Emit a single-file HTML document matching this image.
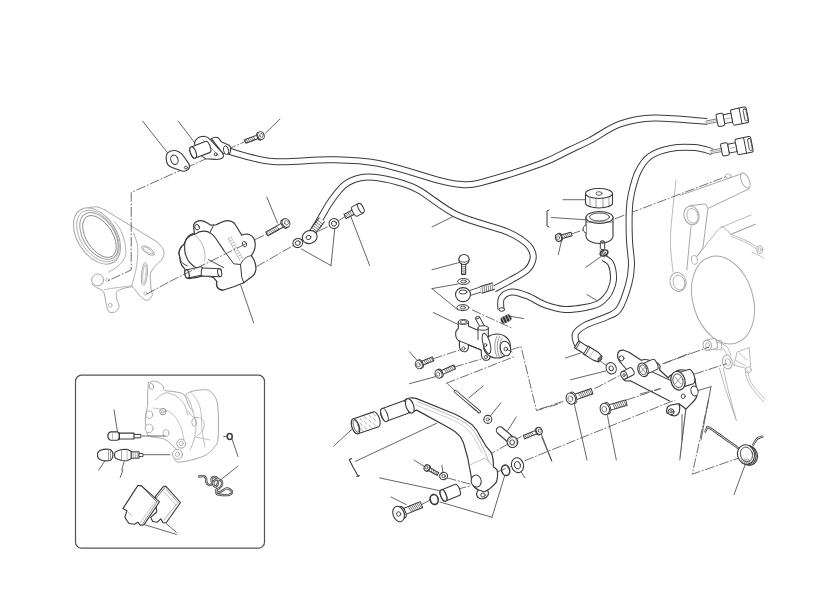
<!DOCTYPE html>
<html><head><meta charset="utf-8"><style>
html,body{margin:0;padding:0;background:#fff;}
body{width:834px;height:590px;overflow:hidden;position:relative;font-family:"Liberation Sans",sans-serif;}
svg{position:absolute;left:0;top:0;}
</style></head><body>
<svg width="834" height="590" viewBox="0 0 834 590" stroke-linecap="round" stroke-linejoin="round">
<path d="M88.9 207.8 C90.2 207.6 94.0 206.4 96.7 206.8 C99.4 207.2 103.6 209.5 105.0 210.0" fill="none" stroke="#a8a8a8" stroke-width="1" />
<path d="M105.0 210.0 L157.1 241.9" fill="none" stroke="#a8a8a8" stroke-width="1" />
<path d="M157.1 241.9 C158.1 243.0 161.8 246.6 162.9 248.7 C164.0 250.8 164.2 252.6 163.9 254.5 C163.6 256.4 162.5 258.4 161.0 260.4 C159.5 262.3 156.8 264.3 155.1 266.2 C153.4 268.1 151.8 270.1 151.0 272.0 C150.2 273.9 150.3 275.0 150.3 277.9 C150.3 280.8 150.9 286.7 151.2 289.6 C151.5 292.5 152.8 293.7 152.2 295.5 C151.5 297.3 149.1 300.0 147.3 300.3 C145.5 300.6 143.9 299.7 141.5 297.4 C139.1 295.1 134.2 288.5 132.7 286.7" fill="none" stroke="#a8a8a8" stroke-width="1" />
<path d="M132.7 286.7 C131.4 286.9 127.4 287.4 125.0 288.0 C122.6 288.6 119.6 289.7 118.1 290.6 C116.6 291.5 116.4 291.9 116.2 293.5 C116.0 295.1 116.5 297.9 117.0 300.0 C117.5 302.1 119.2 304.4 119.1 306.2 C119.0 308.0 117.7 309.9 116.5 311.0 C115.3 312.1 113.3 312.5 112.0 312.5 C110.7 312.5 109.4 312.6 108.4 311.0 C107.4 309.4 106.8 306.2 106.0 303.0 C105.2 299.8 105.0 294.2 103.5 291.6 C102.0 289.1 98.6 289.0 96.7 287.7 C94.8 286.4 92.8 284.6 92.0 284.0" fill="none" stroke="#a8a8a8" stroke-width="1" />
<ellipse cx="97.0" cy="236.0" rx="19.5" ry="31.0" transform="rotate(-33.0 97.0 236.0)" fill="none" stroke="#a8a8a8" stroke-width="1"/>
<ellipse cx="98.0" cy="236.0" rx="17.5" ry="28.5" transform="rotate(-33.0 98.0 236.0)" fill="none" stroke="#a8a8a8" stroke-width="0.8"/>
<ellipse cx="99.0" cy="236.0" rx="15.5" ry="26.0" transform="rotate(-33.0 99.0 236.0)" fill="none" stroke="#999" stroke-width="1"/>
<ellipse cx="99.5" cy="236.5" rx="13.0" ry="23.5" transform="rotate(-33.0 99.5 236.5)" fill="none" stroke="#888" stroke-width="0.9"/>
<path d="M114.2 221.4 C115.2 222.7 118.4 226.1 120.0 229.0 C121.6 231.9 123.0 235.1 124.0 239.0 C125.0 242.9 125.9 249.3 125.9 252.6 C125.9 255.9 125.0 257.1 124.0 259.0 C123.0 260.9 121.8 262.6 120.1 264.3 C118.4 266.0 116.0 267.7 114.0 269.0 C112.0 270.3 109.3 271.6 108.4 272.1" fill="none" stroke="#a8a8a8" stroke-width="0.9" />
<path d="M133.7 233.1 C134.3 235.4 137.1 241.3 137.6 246.8 C138.1 252.3 137.6 259.7 136.6 266.2 C135.6 272.7 132.6 282.4 131.8 285.7" fill="none" stroke="#a8a8a8" stroke-width="0.9" />
<path d="M104.5 289.6 C106.8 289.2 113.5 288.1 118.0 287.5 C122.5 286.9 129.5 286.0 131.8 285.7" fill="none" stroke="#a8a8a8" stroke-width="0.8" />
<ellipse cx="97.7" cy="279.9" rx="6.0" ry="6.0" transform="rotate(0.0 97.7 279.9)" fill="white" stroke="#a8a8a8" stroke-width="1"/>
<ellipse cx="148.0" cy="250.6" rx="7.5" ry="3.0" transform="rotate(33.0 148.0 250.6)" fill="none" stroke="#a8a8a8" stroke-width="0.9"/>
<ellipse cx="148.0" cy="250.6" rx="5.5" ry="1.8" transform="rotate(33.0 148.0 250.6)" fill="none" stroke="#a8a8a8" stroke-width="0.7"/>
<ellipse cx="144.4" cy="274.0" rx="2.9" ry="11.7" transform="rotate(5.0 144.4 274.0)" fill="none" stroke="#a8a8a8" stroke-width="0.9"/>
<ellipse cx="144.4" cy="274.0" rx="1.6" ry="9.5" transform="rotate(5.0 144.4 274.0)" fill="none" stroke="#a8a8a8" stroke-width="0.7"/>
<ellipse cx="107.4" cy="279.9" rx="1.5" ry="1.5" transform="rotate(0.0 107.4 279.9)" fill="none" stroke="#a8a8a8" stroke-width="0.8"/>
<ellipse cx="145.4" cy="293.5" rx="1.6" ry="1.6" transform="rotate(0.0 145.4 293.5)" fill="none" stroke="#a8a8a8" stroke-width="0.8"/>
<ellipse cx="110.3" cy="305.2" rx="1.8" ry="2.2" transform="rotate(0.0 110.3 305.2)" fill="none" stroke="#a8a8a8" stroke-width="0.8"/>
<path d="M680.0 195.4 L742.7 173.4" fill="none" stroke="#a8a8a8" stroke-width="1" />
<path d="M708.8 208.1 L749.5 188.6" fill="none" stroke="#a8a8a8" stroke-width="1" />
<ellipse cx="745.3" cy="180.5" rx="3.8" ry="8.0" transform="rotate(-25.0 745.3 180.5)" fill="white" stroke="#a8a8a8" stroke-width="1"/>
<ellipse cx="728.3" cy="176.0" rx="2.8" ry="2.3" transform="rotate(0.0 728.3 176.0)" fill="none" stroke="#a8a8a8" stroke-width="0.8"/>
<path d="M690.0 205.6 L705.4 203.9 L708.0 208.0 L702.9 248.0 L697.0 256.4" fill="none" stroke="#a8a8a8" stroke-width="1" />
<path d="M691.0 226.0 L686.8 270.0" fill="none" stroke="#a8a8a8" stroke-width="1" />
<ellipse cx="691.5" cy="215.4" rx="7.5" ry="9.5" transform="rotate(-15.0 691.5 215.4)" fill="white" stroke="#a8a8a8" stroke-width="1"/>
<ellipse cx="692.5" cy="215.8" rx="5.5" ry="7.5" transform="rotate(-15.0 692.5 215.8)" fill="none" stroke="#a8a8a8" stroke-width="0.8"/>
<ellipse cx="694.4" cy="259.8" rx="3.0" ry="4.5" transform="rotate(-10.0 694.4 259.8)" fill="white" stroke="#a8a8a8" stroke-width="0.8"/>
<ellipse cx="678.0" cy="282.0" rx="8.0" ry="9.5" transform="rotate(-15.0 678.0 282.0)" fill="white" stroke="#a8a8a8" stroke-width="1"/>
<ellipse cx="679.0" cy="282.5" rx="5.8" ry="7.5" transform="rotate(-15.0 679.0 282.5)" fill="none" stroke="#a8a8a8" stroke-width="0.8"/>
<path d="M676.0 180.0 C675.1 189.4 671.0 221.0 670.5 236.3 C670.0 251.6 672.6 266.1 673.0 272.0" fill="none" stroke="#a8a8a8" stroke-width="0.8" />
<path d="M697.0 256.4 C699.2 253.7 706.0 244.8 710.0 240.0 C714.0 235.2 718.1 229.4 720.7 227.6 C723.3 225.8 724.1 228.2 725.8 229.3 C727.5 230.4 730.0 233.6 730.8 234.4" fill="none" stroke="#a8a8a8" stroke-width="0.9" />
<path d="M720.7 227.6 L751.2 214.9" fill="none" stroke="#a8a8a8" stroke-width="0.8" />
<path d="M730.8 234.4 L755.4 224.2" fill="none" stroke="#888" stroke-width="0.9" />
<path d="M730.8 234.4 C733.2 235.3 740.8 238.0 745.0 240.0 C749.2 242.0 754.4 245.2 756.3 246.3" fill="none" stroke="#a8a8a8" stroke-width="0.8" />
<path d="M731.0 236.5 C733.3 237.4 740.8 240.0 745.0 242.0 C749.2 244.0 754.2 247.4 756.0 248.5" fill="none" stroke="#a8a8a8" stroke-width="0.7" />
<ellipse cx="759.7" cy="249.7" rx="3.0" ry="4.0" transform="rotate(0.0 759.7 249.7)" fill="white" stroke="#a8a8a8" stroke-width="0.9"/>
<ellipse cx="759.7" cy="249.7" rx="1.5" ry="2.0" transform="rotate(0.0 759.7 249.7)" fill="none" stroke="#a8a8a8" stroke-width="0.7"/>
<line x1="752.0" y1="252.0" x2="764.0" y2="258.0" stroke="#a8a8a8" stroke-width="0.7"/>
<ellipse cx="723.0" cy="300.0" rx="30.0" ry="45.0" transform="rotate(-17.0 723.0 300.0)" fill="none" stroke="#a8a8a8" stroke-width="1"/>
<path d="M714.8 340.7 L721.7 340.7 L721.7 349.8 L714.8 349.8Z" fill="none" stroke="#a8a8a8" stroke-width="0.8" />
<line x1="717.0" y1="342.0" x2="717.0" y2="348.5" stroke="#a8a8a8" stroke-width="0.7"/>
<g transform="translate(707.2 345.3) rotate(-13.3)"><path d="M0 -5.2 L7.8 -5.2 A2.3 5.2 0 0 1 7.8 5.2 L0 5.2 A2.3 5.2 0 0 1 0 -5.2 Z" fill="white" stroke="#a8a8a8" stroke-width="0.9"/></g>
<ellipse cx="707.2" cy="345.3" rx="4.2" ry="5.2" transform="rotate(-15.0 707.2 345.3)" fill="white" stroke="#a8a8a8" stroke-width="1"/>
<ellipse cx="707.5" cy="345.3" rx="2.0" ry="2.5" transform="rotate(0.0 707.5 345.3)" fill="none" stroke="#a8a8a8" stroke-width="0.8"/>
<path d="M718.0 342.2 C719.5 343.0 724.9 344.6 727.0 346.8 C729.1 349.0 730.2 353.8 730.9 355.2" fill="none" stroke="#a8a8a8" stroke-width="0.8" />
<path d="M723.0 348.0 C723.8 349.3 727.2 354.7 728.0 356.0" fill="none" stroke="#a8a8a8" stroke-width="0.7" />
<path d="M734.0 365.0 L737.0 352.1 L749.2 347.6 L750.7 365.0 L748.4 371.2" fill="none" stroke="#a8a8a8" stroke-width="0.8" />
<path d="M734.0 365.0 L748.0 369.0" fill="none" stroke="#a8a8a8" stroke-width="0.8" />
<line x1="739.3" y1="352.9" x2="746.9" y2="359.8" stroke="#a8a8a8" stroke-width="0.7"/>
<line x1="736.2" y1="360.5" x2="745.4" y2="365.9" stroke="#a8a8a8" stroke-width="0.7"/>
<ellipse cx="748.5" cy="369.8" rx="2.8" ry="3.0" transform="rotate(0.0 748.5 369.8)" fill="white" stroke="#a8a8a8" stroke-width="0.8"/>
<ellipse cx="727.4" cy="362.0" rx="4.8" ry="7.0" transform="rotate(-10.0 727.4 362.0)" fill="white" stroke="#a8a8a8" stroke-width="1"/>
<ellipse cx="727.9" cy="362.0" rx="2.5" ry="3.5" transform="rotate(-10.0 727.9 362.0)" fill="none" stroke="#a8a8a8" stroke-width="0.8"/>
<path d="M719.4 368.2 L725.5 389.5 L736.2 420.0" fill="none" stroke="#a8a8a8" stroke-width="0.8" />
<path d="M723.2 368.2 L727.8 388.8 L736.2 420.0" fill="none" stroke="#a8a8a8" stroke-width="0.8" />
<path d="M745.4 369.7 C745.6 371.2 745.6 375.6 746.9 378.9 C748.2 382.2 750.2 385.7 753.0 389.5 C755.8 393.3 761.9 399.8 763.7 401.8" fill="none" stroke="#a8a8a8" stroke-width="0.8" />
<path d="M748.0 371.0 C748.2 372.3 748.3 376.2 749.5 379.0 C750.7 381.8 752.4 384.7 755.0 388.0 C757.6 391.3 763.3 397.2 765.0 399.0" fill="none" stroke="#a8a8a8" stroke-width="0.7" />
<path d="M686.0 406.0 L680.0 457.0" fill="none" stroke="#a8a8a8" stroke-width="0.8" />
<path d="M185.8 394.8 C186.6 394.3 187.9 392.6 190.3 391.8 C192.7 391.0 196.9 390.2 200.0 390.0 C203.1 389.8 206.2 389.2 208.6 390.3 C211.0 391.4 213.2 393.9 214.7 396.4 C216.2 398.9 217.2 400.7 217.8 405.5 C218.4 410.3 218.5 419.1 218.5 425.0 C218.5 430.9 218.4 437.0 217.8 440.6 C217.2 444.2 216.5 444.4 214.7 446.7 C212.9 449.0 210.4 452.2 207.1 454.3 C203.8 456.4 199.3 457.7 195.0 459.0 C190.7 460.3 184.5 461.8 181.2 462.0 C177.9 462.2 176.4 462.2 175.1 460.4 C173.8 458.6 173.8 452.8 173.6 451.3" fill="none" stroke="#a8a8a8" stroke-width="1" />
<path d="M148.4 382.6 C149.6 382.4 152.9 380.6 155.3 381.1 C157.7 381.6 161.4 384.2 162.9 385.7 C164.4 387.2 162.4 389.3 164.4 390.3 C166.4 391.3 171.8 391.1 175.1 391.8 C178.4 392.6 181.9 392.5 184.2 394.8 C186.5 397.1 187.3 402.7 188.8 405.5 C190.3 408.3 192.6 410.6 193.4 411.6" fill="none" stroke="#a8a8a8" stroke-width="1" />
<path d="M148.4 382.6 C148.3 384.7 147.7 391.2 147.6 395.0 C147.5 398.8 148.0 401.7 147.6 405.5 C147.2 409.3 145.6 413.9 145.3 417.7 C145.1 421.5 145.4 425.3 146.1 428.4 C146.8 431.4 146.1 434.2 149.2 436.0 C152.2 437.8 160.3 437.3 164.4 439.1 C168.5 440.9 171.3 444.6 173.6 446.7 C175.9 448.8 177.3 451.1 178.0 452.0" fill="none" stroke="#a8a8a8" stroke-width="1" />
<path d="M185.8 394.8 C186.5 396.0 188.8 399.1 190.0 402.0 C191.2 404.9 192.0 408.2 193.0 412.0 C194.0 415.8 195.8 420.3 196.0 425.0 C196.2 429.7 195.0 435.8 194.0 440.0 C193.0 444.2 190.7 448.3 190.0 450.0" fill="none" stroke="#a8a8a8" stroke-width="0.8" />
<path d="M190.3 391.8 C191.4 393.2 195.2 396.6 197.0 400.0 C198.8 403.4 200.2 407.0 201.0 412.0 C201.8 417.0 201.3 424.2 202.0 430.0 C202.7 435.8 204.5 444.2 205.0 447.0" fill="none" stroke="#a8a8a8" stroke-width="0.7" />
<path d="M155.0 400.0 C156.7 398.8 161.5 393.7 165.0 393.0 C168.5 392.3 172.8 394.2 176.0 396.0 C179.2 397.8 182.0 400.8 184.0 404.0 C186.0 407.2 187.3 413.2 188.0 415.0" fill="none" stroke="#a8a8a8" stroke-width="0.8" />
<path d="M153.0 408.0 C155.8 408.7 165.5 409.2 170.0 412.0 C174.5 414.8 177.7 420.3 180.0 425.0 C182.3 429.7 183.3 437.5 184.0 440.0" fill="none" stroke="#a8a8a8" stroke-width="0.7" />
<path d="M188.0 411.0 C188.8 412.0 190.8 415.8 193.0 417.0 C195.2 418.2 199.2 417.0 201.0 418.0 C202.8 419.0 203.7 421.0 204.0 423.0 C204.3 425.0 204.2 427.8 203.0 430.0 C201.8 432.2 198.0 435.0 197.0 436.0" fill="none" stroke="#a8a8a8" stroke-width="0.8" />
<ellipse cx="151.4" cy="386.4" rx="2.2" ry="3.0" transform="rotate(-15.0 151.4 386.4)" fill="none" stroke="#a8a8a8" stroke-width="0.9"/>
<ellipse cx="162.9" cy="411.6" rx="3.2" ry="3.2" transform="rotate(0.0 162.9 411.6)" fill="white" stroke="#999" stroke-width="1"/>
<ellipse cx="162.9" cy="411.6" rx="1.5" ry="1.5" transform="rotate(0.0 162.9 411.6)" fill="none" stroke="#a8a8a8" stroke-width="0.8"/>
<ellipse cx="149.2" cy="414.7" rx="3.5" ry="3.8" transform="rotate(0.0 149.2 414.7)" fill="none" stroke="#a8a8a8" stroke-width="0.9"/>
<ellipse cx="149.2" cy="428.4" rx="4.0" ry="4.2" transform="rotate(0.0 149.2 428.4)" fill="white" stroke="#a8a8a8" stroke-width="0.9"/>
<ellipse cx="181.2" cy="443.6" rx="4.5" ry="4.5" transform="rotate(0.0 181.2 443.6)" fill="white" stroke="#a8a8a8" stroke-width="1"/>
<ellipse cx="181.2" cy="443.6" rx="2.2" ry="2.2" transform="rotate(0.0 181.2 443.6)" fill="none" stroke="#a8a8a8" stroke-width="0.8"/>
<ellipse cx="177.4" cy="454.3" rx="5.0" ry="5.0" transform="rotate(0.0 177.4 454.3)" fill="white" stroke="#a8a8a8" stroke-width="1"/>
<ellipse cx="177.4" cy="454.3" rx="2.2" ry="2.2" transform="rotate(0.0 177.4 454.3)" fill="none" stroke="#a8a8a8" stroke-width="0.8"/>
<ellipse cx="194.1" cy="422.3" rx="2.3" ry="3.8" transform="rotate(0.0 194.1 422.3)" fill="none" stroke="#a8a8a8" stroke-width="0.9"/>
<ellipse cx="166.0" cy="433.0" rx="3.0" ry="3.5" transform="rotate(0.0 166.0 433.0)" fill="none" stroke="#a8a8a8" stroke-width="0.8"/>
<line x1="195.0" y1="437.0" x2="210.0" y2="440.0" stroke="#a8a8a8" stroke-width="0.7"/>
<path d="M186.0 167.8 L216.4 154.2 L245.3 141.5" fill="none" stroke="#555" stroke-width="0.85" stroke-dasharray="9 2.5 1 2.5"/>
<path d="M186.0 167.8 L131.2 192.5 L131.2 270.0 L107.5 281.0" fill="none" stroke="#555" stroke-width="0.85" stroke-dasharray="9 2.5 1 2.5"/>
<path d="M147.0 294.0 L170.0 281.4" fill="none" stroke="#555" stroke-width="0.85" stroke-dasharray="9 2.5 1 2.5"/>
<path d="M255.4 239.4 L266.8 234.0" fill="none" stroke="#555" stroke-width="0.85" stroke-dasharray="9 2.5 1 2.5"/>
<path d="M256.7 266.5 L297.8 243.0 L309.7 237.0" fill="none" stroke="#555" stroke-width="0.85" stroke-dasharray="9 2.5 1 2.5"/>
<path d="M319.0 231.0 L331.0 225.0" fill="none" stroke="#555" stroke-width="0.85" stroke-dasharray="9 2.5 1 2.5"/>
<path d="M339.0 220.5 L345.0 216.5" fill="none" stroke="#555" stroke-width="0.85" stroke-dasharray="9 2.5 1 2.5"/>
<path d="M472.4 310.0 L511.5 328.0" fill="none" stroke="#555" stroke-width="0.85" stroke-dasharray="9 2.5 1 2.5"/>
<path d="M433.0 358.8 L461.7 349.3" fill="none" stroke="#555" stroke-width="0.85" stroke-dasharray="9 2.5 1 2.5"/>
<path d="M454.6 367.0 L482.0 358.8" fill="none" stroke="#555" stroke-width="0.85" stroke-dasharray="9 2.5 1 2.5"/>
<path d="M446.3 383.3 L516.0 356.0" fill="none" stroke="#555" stroke-width="0.85" stroke-dasharray="9 2.5 1 2.5"/>
<path d="M510.5 350.0 L521.0 346.5 L536.5 410.6 L560.0 403.5" fill="none" stroke="#555" stroke-width="0.85" stroke-dasharray="9 2.5 1 2.5"/>
<path d="M447.5 383.7 L478.3 413.4" fill="none" stroke="#555" stroke-width="0.85" stroke-dasharray="9 2.5 1 2.5"/>
<path d="M487.0 456.0 L522.0 436.0" fill="none" stroke="#555" stroke-width="0.85" stroke-dasharray="9 2.5 1 2.5"/>
<path d="M497.0 472.0 L682.4 397.0" fill="none" stroke="#555" stroke-width="0.85" stroke-dasharray="9 2.5 1 2.5"/>
<path d="M540.0 409.0 L562.9 401.4" fill="none" stroke="#555" stroke-width="0.85" stroke-dasharray="9 2.5 1 2.5"/>
<path d="M594.7 388.6 L621.4 374.7" fill="none" stroke="#555" stroke-width="0.85" stroke-dasharray="9 2.5 1 2.5"/>
<path d="M626.4 400.0 L672.2 384.8" fill="none" stroke="#555" stroke-width="0.85" stroke-dasharray="9 2.5 1 2.5"/>
<path d="M664.6 363.2 L690.0 353.0" fill="none" stroke="#555" stroke-width="0.85" stroke-dasharray="9 2.5 1 2.5"/>
<path d="M662.9 363.7 L708.6 347.2" fill="none" stroke="#555" stroke-width="0.85" stroke-dasharray="9 2.5 1 2.5"/>
<path d="M694.7 374.0 L726.4 363.7" fill="none" stroke="#555" stroke-width="0.85" stroke-dasharray="9 2.5 1 2.5"/>
<path d="M640.0 394.0 L673.0 385.3" fill="none" stroke="#555" stroke-width="0.85" stroke-dasharray="9 2.5 1 2.5"/>
<path d="M708.5 400.0 L692.2 474.2 L739.0 458.0" fill="none" stroke="#555" stroke-width="0.85" stroke-dasharray="9 2.5 1 2.5"/>
<path d="M615.4 218.6 L726.4 176.5" fill="none" stroke="#555" stroke-width="0.85" stroke-dasharray="9 2.5 1 2.5"/>
<path d="M571.5 234.0 L585.8 229.0" fill="none" stroke="#555" stroke-width="0.85" stroke-dasharray="9 2.5 1 2.5"/>
<path d="M599.8 360.7 L607.0 366.0" fill="none" stroke="#555" stroke-width="0.85" stroke-dasharray="9 2.5 1 2.5"/>
<path d="M447.0 477.9 L470.0 484.0" fill="none" stroke="#555" stroke-width="0.85" stroke-dasharray="9 2.5 1 2.5"/>
<path d="M421.5 504.6 L430.0 500.0" fill="none" stroke="#555" stroke-width="0.85" stroke-dasharray="9 2.5 1 2.5"/>
<path d="M457.0 489.3 L470.0 486.0" fill="none" stroke="#555" stroke-width="0.85" stroke-dasharray="9 2.5 1 2.5"/>
<path d="M444.0 476.0 L447.0 478.0" fill="none" stroke="#555" stroke-width="0.85" stroke-dasharray="9 2.5 1 2.5"/>
<line x1="142.7" y1="121.2" x2="168.0" y2="153.4" stroke="#4a4a4a" stroke-width="0.85"/>
<line x1="178.3" y1="121.2" x2="194.4" y2="142.4" stroke="#4a4a4a" stroke-width="0.85"/>
<line x1="265.6" y1="133.0" x2="280.0" y2="119.0" stroke="#4a4a4a" stroke-width="0.85"/>
<line x1="266.8" y1="197.0" x2="277.5" y2="223.0" stroke="#4a4a4a" stroke-width="0.85"/>
<line x1="240.7" y1="285.0" x2="253.7" y2="323.0" stroke="#4a4a4a" stroke-width="0.85"/>
<line x1="301.4" y1="249.0" x2="331.0" y2="265.6" stroke="#4a4a4a" stroke-width="0.85"/>
<line x1="331.0" y1="265.6" x2="335.0" y2="226.4" stroke="#4a4a4a" stroke-width="0.85"/>
<line x1="351.0" y1="217.0" x2="369.7" y2="265.6" stroke="#4a4a4a" stroke-width="0.85"/>
<line x1="432.0" y1="227.0" x2="458.0" y2="214.0" stroke="#4a4a4a" stroke-width="0.85"/>
<line x1="432.0" y1="269.7" x2="459.3" y2="262.5" stroke="#4a4a4a" stroke-width="0.85"/>
<line x1="432.0" y1="288.6" x2="458.0" y2="284.0" stroke="#4a4a4a" stroke-width="0.85"/>
<line x1="432.0" y1="288.6" x2="458.0" y2="310.0" stroke="#4a4a4a" stroke-width="0.85"/>
<line x1="433.2" y1="312.5" x2="458.0" y2="324.4" stroke="#4a4a4a" stroke-width="0.85"/>
<line x1="409.5" y1="351.7" x2="417.8" y2="361.2" stroke="#4a4a4a" stroke-width="0.85"/>
<line x1="409.5" y1="383.7" x2="435.6" y2="376.6" stroke="#4a4a4a" stroke-width="0.85"/>
<line x1="523.4" y1="318.5" x2="508.0" y2="316.0" stroke="#4a4a4a" stroke-width="0.85"/>
<line x1="563.0" y1="199.7" x2="585.8" y2="199.7" stroke="#4a4a4a" stroke-width="0.85"/>
<line x1="551.4" y1="217.5" x2="585.8" y2="219.8" stroke="#4a4a4a" stroke-width="0.85"/>
<line x1="561.4" y1="241.0" x2="558.3" y2="254.7" stroke="#4a4a4a" stroke-width="0.85"/>
<line x1="585.8" y1="267.3" x2="601.0" y2="256.6" stroke="#4a4a4a" stroke-width="0.85"/>
<line x1="587.0" y1="294.6" x2="598.8" y2="301.7" stroke="#4a4a4a" stroke-width="0.85"/>
<line x1="565.4" y1="358.0" x2="580.7" y2="353.0" stroke="#4a4a4a" stroke-width="0.85"/>
<line x1="570.5" y1="379.8" x2="606.0" y2="370.9" stroke="#4a4a4a" stroke-width="0.85"/>
<line x1="574.3" y1="404.0" x2="587.0" y2="460.0" stroke="#4a4a4a" stroke-width="0.85"/>
<line x1="607.4" y1="415.3" x2="616.3" y2="460.0" stroke="#4a4a4a" stroke-width="0.85"/>
<line x1="686.2" y1="406.4" x2="679.8" y2="460.0" stroke="#4a4a4a" stroke-width="0.85"/>
<line x1="540.0" y1="430.6" x2="551.4" y2="460.0" stroke="#4a4a4a" stroke-width="0.85"/>
<line x1="682.0" y1="414.6" x2="682.0" y2="440.0" stroke="#4a4a4a" stroke-width="0.85"/>
<line x1="711.0" y1="386.6" x2="701.0" y2="440.0" stroke="#4a4a4a" stroke-width="0.85"/>
<line x1="698.5" y1="390.4" x2="711.0" y2="386.6" stroke="#4a4a4a" stroke-width="0.85"/>
<line x1="745.0" y1="465.0" x2="734.0" y2="494.6" stroke="#4a4a4a" stroke-width="0.85"/>
<line x1="468.8" y1="398.0" x2="483.0" y2="386.1" stroke="#4a4a4a" stroke-width="0.85"/>
<line x1="487.8" y1="419.3" x2="500.9" y2="402.7" stroke="#4a4a4a" stroke-width="0.85"/>
<line x1="507.4" y1="430.9" x2="516.3" y2="416.9" stroke="#4a4a4a" stroke-width="0.85"/>
<line x1="541.7" y1="437.2" x2="551.9" y2="461.4" stroke="#4a4a4a" stroke-width="0.85"/>
<line x1="520.0" y1="470.3" x2="525.0" y2="477.9" stroke="#4a4a4a" stroke-width="0.85"/>
<line x1="504.8" y1="475.3" x2="492.0" y2="517.3" stroke="#4a4a4a" stroke-width="0.85"/>
<line x1="440.0" y1="502.0" x2="492.0" y2="517.3" stroke="#4a4a4a" stroke-width="0.85"/>
<line x1="333.8" y1="446.0" x2="352.9" y2="428.3" stroke="#4a4a4a" stroke-width="0.85"/>
<line x1="355.4" y1="461.4" x2="436.8" y2="423.2" stroke="#4a4a4a" stroke-width="0.85"/>
<line x1="391.0" y1="497.0" x2="406.3" y2="504.6" stroke="#4a4a4a" stroke-width="0.85"/>
<line x1="379.6" y1="477.9" x2="439.3" y2="490.6" stroke="#4a4a4a" stroke-width="0.85"/>
<line x1="414.0" y1="460.0" x2="424.0" y2="466.4" stroke="#4a4a4a" stroke-width="0.85"/>
<line x1="441.9" y1="465.2" x2="443.0" y2="472.8" stroke="#4a4a4a" stroke-width="0.85"/>
<line x1="114.0" y1="409.8" x2="117.5" y2="431.9" stroke="#4a4a4a" stroke-width="0.85"/>
<line x1="105.6" y1="459.8" x2="98.8" y2="470.0" stroke="#4a4a4a" stroke-width="0.85"/>
<line x1="124.2" y1="461.5" x2="121.7" y2="470.0" stroke="#4a4a4a" stroke-width="0.85"/>
<line x1="221.4" y1="479.2" x2="238.0" y2="466.1" stroke="#4a4a4a" stroke-width="0.85"/>
<line x1="232.0" y1="438.8" x2="238.0" y2="456.6" stroke="#4a4a4a" stroke-width="0.85"/>
<line x1="223.7" y1="436.4" x2="227.0" y2="436.4" stroke="#4a4a4a" stroke-width="0.85"/>
<line x1="145.2" y1="524.9" x2="176.4" y2="534.4" stroke="#4a4a4a" stroke-width="0.85"/>
<line x1="166.2" y1="523.5" x2="176.4" y2="532.3" stroke="#4a4a4a" stroke-width="0.85"/>
<line x1="122.9" y1="470.0" x2="120.2" y2="477.5" stroke="#4a4a4a" stroke-width="0.85"/>
<line x1="142.0" y1="436.0" x2="165.0" y2="436.0" stroke="#4a4a4a" stroke-width="0.85"/>
<line x1="143.0" y1="454.7" x2="170.0" y2="454.7" stroke="#4a4a4a" stroke-width="0.85"/>
<rect x="75.5" y="375.2" width="189" height="173" rx="6" ry="6" fill="none" stroke="#555" stroke-width="1.2"/>
<path d="M228.0 151.0 C235.5 152.8 255.7 160.2 272.8 161.6 C289.9 163.0 313.2 159.4 330.8 159.7 C348.4 160.0 360.1 159.9 378.3 163.4 C396.5 166.9 426.4 177.2 440.0 180.7 C453.6 184.2 453.3 184.0 460.0 184.3 C466.7 184.7 466.7 186.2 480.0 182.8 C493.3 179.4 525.0 169.5 540.0 164.0 C555.0 158.5 561.7 153.9 570.0 150.0 C578.3 146.1 581.7 144.8 590.0 140.5 C598.3 136.2 609.3 127.8 620.0 124.0 C630.7 120.2 639.5 118.4 654.0 118.0 C668.5 117.6 698.2 120.9 707.0 121.5" fill="none" stroke="#3a3a3a" stroke-width="7" stroke-linecap="butt"/>
<path d="M228.0 151.0 C235.5 152.8 255.7 160.2 272.8 161.6 C289.9 163.0 313.2 159.4 330.8 159.7 C348.4 160.0 360.1 159.9 378.3 163.4 C396.5 166.9 426.4 177.2 440.0 180.7 C453.6 184.2 453.3 184.0 460.0 184.3 C466.7 184.7 466.7 186.2 480.0 182.8 C493.3 179.4 525.0 169.5 540.0 164.0 C555.0 158.5 561.7 153.9 570.0 150.0 C578.3 146.1 581.7 144.8 590.0 140.5 C598.3 136.2 609.3 127.8 620.0 124.0 C630.7 120.2 639.5 118.4 654.0 118.0 C668.5 117.6 698.2 120.9 707.0 121.5" fill="none" stroke="white" stroke-width="5" stroke-linecap="butt"/>
<path d="M314.0 230.0 C314.8 228.7 315.7 226.8 318.5 222.0 C321.3 217.2 326.6 207.2 331.0 201.0 C335.4 194.8 339.8 188.4 345.0 184.5 C350.2 180.6 356.2 178.6 362.0 177.5 C367.8 176.4 372.8 177.0 379.7 178.0 C386.6 179.0 396.7 181.6 403.4 183.7 C410.1 185.8 411.1 185.6 420.0 190.8 C428.9 196.0 442.8 208.3 457.0 215.0 C471.2 221.7 494.2 226.8 505.0 231.0 C515.8 235.2 517.7 237.0 522.0 240.0 C526.3 243.0 529.2 245.8 531.0 249.0 C532.8 252.2 533.7 255.5 533.0 259.0 C532.3 262.5 530.7 266.5 527.0 270.0 C523.3 273.5 516.5 276.8 511.0 280.0 C505.5 283.2 496.8 287.5 494.0 289.0" fill="none" stroke="#3a3a3a" stroke-width="7" stroke-linecap="butt"/>
<path d="M314.0 230.0 C314.8 228.7 315.7 226.8 318.5 222.0 C321.3 217.2 326.6 207.2 331.0 201.0 C335.4 194.8 339.8 188.4 345.0 184.5 C350.2 180.6 356.2 178.6 362.0 177.5 C367.8 176.4 372.8 177.0 379.7 178.0 C386.6 179.0 396.7 181.6 403.4 183.7 C410.1 185.8 411.1 185.6 420.0 190.8 C428.9 196.0 442.8 208.3 457.0 215.0 C471.2 221.7 494.2 226.8 505.0 231.0 C515.8 235.2 517.7 237.0 522.0 240.0 C526.3 243.0 529.2 245.8 531.0 249.0 C532.8 252.2 533.7 255.5 533.0 259.0 C532.3 262.5 530.7 266.5 527.0 270.0 C523.3 273.5 516.5 276.8 511.0 280.0 C505.5 283.2 496.8 287.5 494.0 289.0" fill="none" stroke="white" stroke-width="5" stroke-linecap="butt"/>
<path d="M712.0 151.5 C709.1 150.8 701.4 148.1 694.4 147.6 C687.4 147.1 677.5 147.1 670.0 148.6 C662.5 150.1 654.9 152.6 649.6 156.5 C644.3 160.4 641.0 165.9 638.0 172.0 C635.0 178.1 633.0 186.6 631.5 193.0 C630.0 199.4 629.6 202.5 629.3 210.5 C629.0 218.5 629.1 231.9 629.5 241.0 C629.9 250.1 631.7 257.7 631.5 265.0 C631.3 272.3 630.6 277.7 628.5 285.0 C626.4 292.3 622.6 303.7 619.0 309.0 C615.4 314.3 612.5 314.0 607.0 316.7 C601.5 319.4 591.0 322.2 585.8 325.0 C580.6 327.8 577.3 330.4 575.7 333.3 C574.1 336.2 575.7 340.1 576.3 342.2 C576.9 344.3 578.7 345.2 579.2 345.8" fill="none" stroke="#3a3a3a" stroke-width="7" stroke-linecap="butt"/>
<path d="M712.0 151.5 C709.1 150.8 701.4 148.1 694.4 147.6 C687.4 147.1 677.5 147.1 670.0 148.6 C662.5 150.1 654.9 152.6 649.6 156.5 C644.3 160.4 641.0 165.9 638.0 172.0 C635.0 178.1 633.0 186.6 631.5 193.0 C630.0 199.4 629.6 202.5 629.3 210.5 C629.0 218.5 629.1 231.9 629.5 241.0 C629.9 250.1 631.7 257.7 631.5 265.0 C631.3 272.3 630.6 277.7 628.5 285.0 C626.4 292.3 622.6 303.7 619.0 309.0 C615.4 314.3 612.5 314.0 607.0 316.7 C601.5 319.4 591.0 322.2 585.8 325.0 C580.6 327.8 577.3 330.4 575.7 333.3 C574.1 336.2 575.7 340.1 576.3 342.2 C576.9 344.3 578.7 345.2 579.2 345.8" fill="none" stroke="white" stroke-width="5" stroke-linecap="butt"/>
<path d="M501.0 310.0 C501.1 308.0 499.7 301.0 501.5 298.0 C503.3 295.0 507.7 292.3 512.0 292.0 C516.3 291.7 521.9 293.8 527.5 296.0 C533.1 298.2 539.4 302.8 545.6 305.0 C551.9 307.2 558.4 309.1 565.0 309.5 C571.6 309.9 579.4 308.5 585.0 307.5 C590.6 306.5 595.1 305.4 598.8 303.5 C602.5 301.6 605.0 298.2 607.0 296.0 C609.0 293.8 609.5 292.8 610.6 290.0 C611.7 287.2 613.4 283.3 613.5 279.0 C613.6 274.7 612.6 267.5 611.0 264.0 C609.4 260.5 605.2 259.0 604.0 258.0" fill="none" stroke="#3a3a3a" stroke-width="7" stroke-linecap="butt"/>
<path d="M501.0 310.0 C501.1 308.0 499.7 301.0 501.5 298.0 C503.3 295.0 507.7 292.3 512.0 292.0 C516.3 291.7 521.9 293.8 527.5 296.0 C533.1 298.2 539.4 302.8 545.6 305.0 C551.9 307.2 558.4 309.1 565.0 309.5 C571.6 309.9 579.4 308.5 585.0 307.5 C590.6 306.5 595.1 305.4 598.8 303.5 C602.5 301.6 605.0 298.2 607.0 296.0 C609.0 293.8 609.5 292.8 610.6 290.0 C611.7 287.2 613.4 283.3 613.5 279.0 C613.6 274.7 612.6 267.5 611.0 264.0 C609.4 260.5 605.2 259.0 604.0 258.0" fill="none" stroke="white" stroke-width="5" stroke-linecap="butt"/>
<path d="M166.4 160 C165 153 170 150 175 150.5 C181 151 184 157 189 164 C191 168 187 172 182 171 L172 167.5 C168 166 166.5 163 166.4 160Z" fill="white" stroke="#3a3a3a" stroke-width="1.1"/>
<ellipse cx="174.4" cy="159.7" rx="3.6" ry="4.8" transform="rotate(-20.0 174.4 159.7)" fill="white" stroke="#3a3a3a" stroke-width="1"/>
<ellipse cx="186.0" cy="167.5" rx="1.6" ry="1.4" transform="rotate(0.0 186.0 167.5)" fill="white" stroke="#3a3a3a" stroke-width="0.9"/>
<path d="M211.3 138.7 C214 137 216.5 136.8 218.5 138 L221.4 141.8 L229.5 145.5 C231 147 231 152 229.5 153.5 L223 153.5 Z" fill="white" stroke="#3a3a3a" stroke-width="1.1"/>
<path d="M194.4 143 C195.5 139 199 136.3 203.8 136.2 C206 136.3 208.5 137.5 210.1 139.3 L222.6 153.1 C224 155.5 223.5 158 221.4 158.5 C219 159.5 217 159.5 215.1 159.4 L205.7 158.7 C200 156 196 150 194.4 143Z" fill="white" stroke="#3a3a3a" stroke-width="1.1"/>
<line x1="202.5" y1="139.5" x2="218.5" y2="155.5" stroke="#888" stroke-width="0.7"/>
<ellipse cx="215.7" cy="154.3" rx="1.5" ry="1.5" transform="rotate(0.0 215.7 154.3)" fill="white" stroke="#3a3a3a" stroke-width="1"/>
<g transform="translate(193.2 152.5) rotate(-21.0)"><path d="M0 -6.0 L15.3 -6.0 A2.7 6.0 0 0 1 15.3 6.0 L0 6.0 A2.7 6.0 0 0 1 0 -6.0 Z" fill="white" stroke="#3a3a3a" stroke-width="1.1"/><ellipse cx="0" cy="0" rx="2.7" ry="6.0" fill="white" stroke="#3a3a3a" stroke-width="1.1"/></g>
<ellipse cx="226.0" cy="150.2" rx="2.5" ry="4.3" transform="rotate(-10.0 226.0 150.2)" fill="white" stroke="#3a3a3a" stroke-width="0.9"/>
<g transform="translate(261.0 135.6) rotate(159.4)"><path d="M2.0 -1.8 L16.8 -1.8 L16.8 1.8 L2.0 1.8 Z" fill="white" stroke="#3a3a3a" stroke-width="1"/><line x1="6.7" y1="-1.8" x2="7.7" y2="1.8" stroke="#3a3a3a" stroke-width="0.6"/><line x1="8.6" y1="-1.8" x2="9.6" y2="1.8" stroke="#3a3a3a" stroke-width="0.6"/><line x1="10.5" y1="-1.8" x2="11.5" y2="1.8" stroke="#3a3a3a" stroke-width="0.6"/><line x1="12.4" y1="-1.8" x2="13.4" y2="1.8" stroke="#3a3a3a" stroke-width="0.6"/><line x1="14.3" y1="-1.8" x2="15.3" y2="1.8" stroke="#3a3a3a" stroke-width="0.6"/><line x1="16.2" y1="-1.8" x2="17.2" y2="1.8" stroke="#3a3a3a" stroke-width="0.6"/><ellipse cx="1.8" cy="0" rx="2.2" ry="4.1" fill="white" stroke="#3a3a3a" stroke-width="1"/><ellipse cx="0" cy="0" rx="3.2" ry="4.0" fill="white" stroke="#3a3a3a" stroke-width="1"/><ellipse cx="-0.5" cy="0" rx="1.6" ry="2.0" fill="none" stroke="#3a3a3a" stroke-width="0.6"/></g>
<g transform="translate(286.0 223.0) rotate(150.2)"><path d="M2.3 -2.1 L22.1 -2.1 L22.1 2.1 L2.3 2.1 Z" fill="white" stroke="#3a3a3a" stroke-width="1"/><line x1="8.9" y1="-2.1" x2="9.9" y2="2.1" stroke="#3a3a3a" stroke-width="0.6"/><line x1="10.8" y1="-2.1" x2="11.8" y2="2.1" stroke="#3a3a3a" stroke-width="0.6"/><line x1="12.7" y1="-2.1" x2="13.7" y2="2.1" stroke="#3a3a3a" stroke-width="0.6"/><line x1="14.6" y1="-2.1" x2="15.6" y2="2.1" stroke="#3a3a3a" stroke-width="0.6"/><line x1="16.5" y1="-2.1" x2="17.5" y2="2.1" stroke="#3a3a3a" stroke-width="0.6"/><line x1="18.4" y1="-2.1" x2="19.4" y2="2.1" stroke="#3a3a3a" stroke-width="0.6"/><line x1="20.3" y1="-2.1" x2="21.3" y2="2.1" stroke="#3a3a3a" stroke-width="0.6"/><ellipse cx="2.1" cy="0" rx="2.5" ry="4.7" fill="white" stroke="#3a3a3a" stroke-width="1"/><ellipse cx="0" cy="0" rx="3.7" ry="4.6" fill="white" stroke="#3a3a3a" stroke-width="1"/><ellipse cx="-0.5" cy="0" rx="1.8" ry="2.3" fill="none" stroke="#3a3a3a" stroke-width="0.6"/></g>
<g transform="translate(357.8 209.8) rotate(152.4) translate(3.4 0)"><path d="M0 -2.4 L11.0 -2.4 L11.0 2.4 L0 2.4 Z" fill="white" stroke="#3a3a3a" stroke-width="1"/><line x1="3.9" y1="-2.4" x2="5.1" y2="2.4" stroke="#3a3a3a" stroke-width="0.6"/><line x1="5.7" y1="-2.4" x2="6.9" y2="2.4" stroke="#3a3a3a" stroke-width="0.6"/><line x1="7.5" y1="-2.4" x2="8.7" y2="2.4" stroke="#3a3a3a" stroke-width="0.6"/><line x1="9.3" y1="-2.4" x2="10.5" y2="2.4" stroke="#3a3a3a" stroke-width="0.6"/><path d="M-6.9 -5.3 L0.0 -5.3 A2.1 5.3 0 0 1 0.0 5.3 L-6.9 5.3 Z" fill="white" stroke="#3a3a3a" stroke-width="1"/><ellipse cx="-6.9" cy="0" rx="2.4" ry="5.3" fill="white" stroke="#3a3a3a" stroke-width="1"/></g>
<path d="M461.5 263 L461.5 274.5 L465.7 274.5 L465.7 263Z" fill="white" stroke="#3a3a3a" stroke-width="1"/>
<line x1="461.5" y1="266.0" x2="465.7" y2="267.0" stroke="#3a3a3a" stroke-width="0.6"/>
<line x1="461.5" y1="267.8" x2="465.7" y2="268.8" stroke="#3a3a3a" stroke-width="0.6"/>
<line x1="461.5" y1="269.6" x2="465.7" y2="270.6" stroke="#3a3a3a" stroke-width="0.6"/>
<line x1="461.5" y1="271.4" x2="465.7" y2="272.4" stroke="#3a3a3a" stroke-width="0.6"/>
<line x1="461.5" y1="273.2" x2="465.7" y2="274.2" stroke="#3a3a3a" stroke-width="0.6"/>
<ellipse cx="464.0" cy="259.5" rx="5.2" ry="5.0" transform="rotate(0.0 464.0 259.5)" fill="white" stroke="#3a3a3a" stroke-width="1.1"/>
<path d="M459 260 C460 263 468 263 469 260" fill="none" stroke="#3a3a3a" stroke-width="0.8"/>
<g transform="translate(558.5 237.6) rotate(-15.5)"><path d="M1.9 -1.9 L13.5 -1.9 L13.5 1.9 L1.9 1.9 Z" fill="white" stroke="#3a3a3a" stroke-width="1"/><line x1="5.4" y1="-1.9" x2="6.4" y2="1.9" stroke="#3a3a3a" stroke-width="0.6"/><line x1="7.3" y1="-1.9" x2="8.3" y2="1.9" stroke="#3a3a3a" stroke-width="0.6"/><line x1="9.2" y1="-1.9" x2="10.2" y2="1.9" stroke="#3a3a3a" stroke-width="0.6"/><line x1="11.1" y1="-1.9" x2="12.1" y2="1.9" stroke="#3a3a3a" stroke-width="0.6"/><ellipse cx="1.7" cy="0" rx="2.1" ry="3.9" fill="white" stroke="#3a3a3a" stroke-width="1"/><ellipse cx="0" cy="0" rx="3.0" ry="3.8" fill="white" stroke="#3a3a3a" stroke-width="1"/><ellipse cx="-0.5" cy="0" rx="1.5" ry="1.9" fill="none" stroke="#3a3a3a" stroke-width="0.6"/></g>
<g transform="translate(418.8 364.6) rotate(-22.2)"><path d="M2.1 -2.1 L15.3 -2.1 L15.3 2.1 L2.1 2.1 Z" fill="white" stroke="#3a3a3a" stroke-width="1"/><line x1="6.1" y1="-2.1" x2="7.1" y2="2.1" stroke="#3a3a3a" stroke-width="0.6"/><line x1="8.0" y1="-2.1" x2="9.0" y2="2.1" stroke="#3a3a3a" stroke-width="0.6"/><line x1="9.9" y1="-2.1" x2="10.9" y2="2.1" stroke="#3a3a3a" stroke-width="0.6"/><line x1="11.8" y1="-2.1" x2="12.8" y2="2.1" stroke="#3a3a3a" stroke-width="0.6"/><line x1="13.7" y1="-2.1" x2="14.7" y2="2.1" stroke="#3a3a3a" stroke-width="0.6"/><ellipse cx="1.9" cy="0" rx="2.4" ry="4.4" fill="white" stroke="#3a3a3a" stroke-width="1"/><ellipse cx="0" cy="0" rx="3.4" ry="4.3" fill="white" stroke="#3a3a3a" stroke-width="1"/><ellipse cx="-0.5" cy="0" rx="1.7" ry="2.1" fill="none" stroke="#3a3a3a" stroke-width="0.6"/></g>
<g transform="translate(438.5 374.0) rotate(-23.5)"><path d="M2.1 -2.1 L17.6 -2.1 L17.6 2.1 L2.1 2.1 Z" fill="white" stroke="#3a3a3a" stroke-width="1"/><line x1="7.0" y1="-2.1" x2="8.0" y2="2.1" stroke="#3a3a3a" stroke-width="0.6"/><line x1="8.9" y1="-2.1" x2="9.9" y2="2.1" stroke="#3a3a3a" stroke-width="0.6"/><line x1="10.8" y1="-2.1" x2="11.8" y2="2.1" stroke="#3a3a3a" stroke-width="0.6"/><line x1="12.7" y1="-2.1" x2="13.7" y2="2.1" stroke="#3a3a3a" stroke-width="0.6"/><line x1="14.6" y1="-2.1" x2="15.6" y2="2.1" stroke="#3a3a3a" stroke-width="0.6"/><line x1="16.5" y1="-2.1" x2="17.5" y2="2.1" stroke="#3a3a3a" stroke-width="0.6"/><ellipse cx="1.9" cy="0" rx="2.4" ry="4.4" fill="white" stroke="#3a3a3a" stroke-width="1"/><ellipse cx="0" cy="0" rx="3.4" ry="4.3" fill="white" stroke="#3a3a3a" stroke-width="1"/><ellipse cx="-0.5" cy="0" rx="1.7" ry="2.1" fill="none" stroke="#3a3a3a" stroke-width="0.6"/></g>
<g transform="translate(402.0 512.5) rotate(-22.1) translate(1.0 0)"><path d="M0 -3.2 L20.0 -3.2 L20.0 3.2 L0 3.2 Z" fill="white" stroke="#3a3a3a" stroke-width="1"/><line x1="7.0" y1="-3.2" x2="8.2" y2="3.2" stroke="#3a3a3a" stroke-width="0.6"/><line x1="8.8" y1="-3.2" x2="10.0" y2="3.2" stroke="#3a3a3a" stroke-width="0.6"/><line x1="10.6" y1="-3.2" x2="11.8" y2="3.2" stroke="#3a3a3a" stroke-width="0.6"/><line x1="12.4" y1="-3.2" x2="13.6" y2="3.2" stroke="#3a3a3a" stroke-width="0.6"/><line x1="14.2" y1="-3.2" x2="15.4" y2="3.2" stroke="#3a3a3a" stroke-width="0.6"/><line x1="16.0" y1="-3.2" x2="17.2" y2="3.2" stroke="#3a3a3a" stroke-width="0.6"/><line x1="17.8" y1="-3.2" x2="19.0" y2="3.2" stroke="#3a3a3a" stroke-width="0.6"/><path d="M-2.0 -6.0 L0.0 -6.0 A2.4 6.0 0 0 1 0.0 6.0 L-2.0 6.0 Z" fill="white" stroke="#3a3a3a" stroke-width="1"/><ellipse cx="-2.0" cy="0" rx="2.7" ry="6.0" fill="white" stroke="#3a3a3a" stroke-width="1"/></g>
<ellipse cx="398.6" cy="514.0" rx="5.5" ry="8.0" transform="rotate(-20.0 398.6 514.0)" fill="white" stroke="#3a3a3a" stroke-width="1.1"/>
<ellipse cx="398.6" cy="514.0" rx="2.0" ry="2.3" transform="rotate(0.0 398.6 514.0)" fill="white" stroke="#3a3a3a" stroke-width="0.9"/>
<g transform="translate(426.8 467.8) rotate(29.0)"><path d="M1.6 -1.6 L12.8 -1.6 L12.8 1.6 L1.6 1.6 Z" fill="white" stroke="#3a3a3a" stroke-width="1"/><line x1="5.1" y1="-1.6" x2="6.1" y2="1.6" stroke="#3a3a3a" stroke-width="0.6"/><line x1="7.0" y1="-1.6" x2="8.0" y2="1.6" stroke="#3a3a3a" stroke-width="0.6"/><line x1="8.9" y1="-1.6" x2="9.9" y2="1.6" stroke="#3a3a3a" stroke-width="0.6"/><line x1="10.8" y1="-1.6" x2="11.8" y2="1.6" stroke="#3a3a3a" stroke-width="0.6"/><ellipse cx="1.4" cy="0" rx="1.8" ry="3.3" fill="white" stroke="#3a3a3a" stroke-width="1"/><ellipse cx="0" cy="0" rx="2.6" ry="3.2" fill="white" stroke="#3a3a3a" stroke-width="1"/><ellipse cx="-0.5" cy="0" rx="1.3" ry="1.6" fill="none" stroke="#3a3a3a" stroke-width="0.6"/></g>
<g transform="translate(539.2 430.9) rotate(157.5)"><path d="M1.8 -1.8 L16.5 -1.8 L16.5 1.8 L1.8 1.8 Z" fill="white" stroke="#3a3a3a" stroke-width="1"/><line x1="6.6" y1="-1.8" x2="7.6" y2="1.8" stroke="#3a3a3a" stroke-width="0.6"/><line x1="8.5" y1="-1.8" x2="9.5" y2="1.8" stroke="#3a3a3a" stroke-width="0.6"/><line x1="10.4" y1="-1.8" x2="11.4" y2="1.8" stroke="#3a3a3a" stroke-width="0.6"/><line x1="12.3" y1="-1.8" x2="13.3" y2="1.8" stroke="#3a3a3a" stroke-width="0.6"/><line x1="14.2" y1="-1.8" x2="15.2" y2="1.8" stroke="#3a3a3a" stroke-width="0.6"/><ellipse cx="1.6" cy="0" rx="2.0" ry="3.7" fill="white" stroke="#3a3a3a" stroke-width="1"/><ellipse cx="0" cy="0" rx="2.9" ry="3.6" fill="white" stroke="#3a3a3a" stroke-width="1"/><ellipse cx="-0.5" cy="0" rx="1.4" ry="1.8" fill="none" stroke="#3a3a3a" stroke-width="0.6"/></g>
<g transform="translate(570.8 398.6) rotate(-19.2)"><path d="M2.9 -2.8 L22.5 -2.8 L22.5 2.8 L2.9 2.8 Z" fill="white" stroke="#3a3a3a" stroke-width="1"/><line x1="9.0" y1="-2.8" x2="10.0" y2="2.8" stroke="#3a3a3a" stroke-width="0.6"/><line x1="10.9" y1="-2.8" x2="11.9" y2="2.8" stroke="#3a3a3a" stroke-width="0.6"/><line x1="12.8" y1="-2.8" x2="13.8" y2="2.8" stroke="#3a3a3a" stroke-width="0.6"/><line x1="14.7" y1="-2.8" x2="15.7" y2="2.8" stroke="#3a3a3a" stroke-width="0.6"/><line x1="16.6" y1="-2.8" x2="17.6" y2="2.8" stroke="#3a3a3a" stroke-width="0.6"/><line x1="18.5" y1="-2.8" x2="19.5" y2="2.8" stroke="#3a3a3a" stroke-width="0.6"/><line x1="20.4" y1="-2.8" x2="21.4" y2="2.8" stroke="#3a3a3a" stroke-width="0.6"/><ellipse cx="2.6" cy="0" rx="3.2" ry="5.9" fill="white" stroke="#3a3a3a" stroke-width="1"/><ellipse cx="0" cy="0" rx="4.6" ry="5.8" fill="white" stroke="#3a3a3a" stroke-width="1"/><ellipse cx="-0.5" cy="0" rx="2.3" ry="2.9" fill="none" stroke="#3a3a3a" stroke-width="0.6"/></g>
<g transform="translate(604.8 409.0) rotate(-16.5)"><path d="M2.9 -2.8 L22.5 -2.8 L22.5 2.8 L2.9 2.8 Z" fill="white" stroke="#3a3a3a" stroke-width="1"/><line x1="9.0" y1="-2.8" x2="10.0" y2="2.8" stroke="#3a3a3a" stroke-width="0.6"/><line x1="10.9" y1="-2.8" x2="11.9" y2="2.8" stroke="#3a3a3a" stroke-width="0.6"/><line x1="12.8" y1="-2.8" x2="13.8" y2="2.8" stroke="#3a3a3a" stroke-width="0.6"/><line x1="14.7" y1="-2.8" x2="15.7" y2="2.8" stroke="#3a3a3a" stroke-width="0.6"/><line x1="16.6" y1="-2.8" x2="17.6" y2="2.8" stroke="#3a3a3a" stroke-width="0.6"/><line x1="18.5" y1="-2.8" x2="19.5" y2="2.8" stroke="#3a3a3a" stroke-width="0.6"/><line x1="20.4" y1="-2.8" x2="21.4" y2="2.8" stroke="#3a3a3a" stroke-width="0.6"/><ellipse cx="2.6" cy="0" rx="3.2" ry="5.9" fill="white" stroke="#3a3a3a" stroke-width="1"/><ellipse cx="0" cy="0" rx="4.6" ry="5.8" fill="white" stroke="#3a3a3a" stroke-width="1"/><ellipse cx="-0.5" cy="0" rx="2.3" ry="2.9" fill="none" stroke="#3a3a3a" stroke-width="0.6"/></g>
<ellipse cx="297.8" cy="243.0" rx="5.0" ry="4.5" transform="rotate(-20.0 297.8 243.0)" fill="white" stroke="#3a3a3a" stroke-width="1"/>
<ellipse cx="297.8" cy="243.0" rx="2.5" ry="2.2" transform="rotate(-20.0 297.8 243.0)" fill="white" stroke="#3a3a3a" stroke-width="0.9"/>
<ellipse cx="334.0" cy="223.6" rx="5.0" ry="5.0" transform="rotate(-20.0 334.0 223.6)" fill="white" stroke="#3a3a3a" stroke-width="1"/>
<ellipse cx="334.0" cy="223.6" rx="2.5" ry="2.5" transform="rotate(-20.0 334.0 223.6)" fill="white" stroke="#3a3a3a" stroke-width="0.9"/>
<path d="M312.5 232 L322 219.5" stroke="#3a3a3a" stroke-width="7.5" stroke-linecap="butt"/><path d="M312.5 232 L322 219.5" stroke="white" stroke-width="5.5" stroke-linecap="butt"/>
<line x1="311.3" y1="227.0" x2="317.3" y2="231.6" stroke="#3a3a3a" stroke-width="0.7"/>
<line x1="312.7" y1="225.2" x2="318.7" y2="229.8" stroke="#3a3a3a" stroke-width="0.7"/>
<line x1="314.2" y1="223.5" x2="320.2" y2="228.1" stroke="#3a3a3a" stroke-width="0.7"/>
<line x1="315.6" y1="221.7" x2="321.6" y2="226.3" stroke="#3a3a3a" stroke-width="0.7"/>
<line x1="317.1" y1="219.9" x2="323.1" y2="224.5" stroke="#3a3a3a" stroke-width="0.7"/>
<ellipse cx="309.7" cy="237.0" rx="7.5" ry="6.5" transform="rotate(-20.0 309.7 237.0)" fill="white" stroke="#3a3a3a" stroke-width="1.1"/>
<ellipse cx="308.5" cy="237.5" rx="2.5" ry="2.0" transform="rotate(-20.0 308.5 237.5)" fill="white" stroke="#3a3a3a" stroke-width="0.9"/>
<ellipse cx="463.6" cy="281.5" rx="6.0" ry="3.0" transform="rotate(0.0 463.6 281.5)" fill="white" stroke="#3a3a3a" stroke-width="1"/>
<ellipse cx="463.6" cy="281.5" rx="2.7" ry="1.4" transform="rotate(0.0 463.6 281.5)" fill="white" stroke="#3a3a3a" stroke-width="0.9"/>
<path d="M470 293 L480.7 289.5" stroke="#3a3a3a" stroke-width="6" stroke-linecap="butt"/><path d="M470 293 L480.7 289.5" stroke="white" stroke-width="4" stroke-linecap="butt"/>
<path d="M480.7 290 L493.7 286" stroke="#3a3a3a" stroke-width="8" stroke-linecap="butt"/><path d="M480.7 290 L493.7 286" stroke="white" stroke-width="6" stroke-linecap="butt"/>
<line x1="482.0" y1="286.4" x2="482.8" y2="292.8" stroke="#3a3a3a" stroke-width="0.6"/>
<line x1="484.0" y1="285.8" x2="484.8" y2="292.2" stroke="#3a3a3a" stroke-width="0.6"/>
<line x1="486.0" y1="285.2" x2="486.8" y2="291.6" stroke="#3a3a3a" stroke-width="0.6"/>
<line x1="488.0" y1="284.6" x2="488.8" y2="291.0" stroke="#3a3a3a" stroke-width="0.6"/>
<line x1="490.0" y1="284.0" x2="490.8" y2="290.4" stroke="#3a3a3a" stroke-width="0.6"/>
<line x1="492.0" y1="283.4" x2="492.8" y2="289.8" stroke="#3a3a3a" stroke-width="0.6"/>
<ellipse cx="463.0" cy="294.6" rx="7.5" ry="7.0" transform="rotate(0.0 463.0 294.6)" fill="white" stroke="#3a3a3a" stroke-width="1.1"/>
<ellipse cx="463.0" cy="292.0" rx="4.0" ry="2.0" transform="rotate(0.0 463.0 292.0)" fill="white" stroke="#3a3a3a" stroke-width="0.9"/>
<ellipse cx="462.9" cy="307.6" rx="6.0" ry="3.0" transform="rotate(0.0 462.9 307.6)" fill="white" stroke="#3a3a3a" stroke-width="1"/>
<ellipse cx="462.9" cy="307.6" rx="2.7" ry="1.4" transform="rotate(0.0 462.9 307.6)" fill="white" stroke="#3a3a3a" stroke-width="0.9"/>
<path d="M585.5 193.5 L585.5 203 A13.5 5 0 0 0 612.5 203 L612.5 193.5" fill="white" stroke="#3a3a3a" stroke-width="1.1"/>
<ellipse cx="599.0" cy="193.5" rx="13.5" ry="5.0" transform="rotate(0.0 599.0 193.5)" fill="white" stroke="#3a3a3a" stroke-width="1.1"/>
<ellipse cx="599.0" cy="193.5" rx="3.0" ry="1.8" transform="rotate(0.0 599.0 193.5)" fill="white" stroke="#3a3a3a" stroke-width="0.8"/>
<line x1="590.0" y1="198.0" x2="590.0" y2="207.0" stroke="#3a3a3a" stroke-width="0.5"/>
<line x1="596.0" y1="198.0" x2="596.0" y2="207.0" stroke="#3a3a3a" stroke-width="0.5"/>
<line x1="603.0" y1="198.0" x2="603.0" y2="207.0" stroke="#3a3a3a" stroke-width="0.5"/>
<line x1="609.0" y1="198.0" x2="609.0" y2="207.0" stroke="#3a3a3a" stroke-width="0.5"/>
<path d="M586 217 L586 236 C586 240 592 243.5 599.5 243.5 C607 243.5 613 240 613 236 L613 217" fill="white" stroke="#3a3a3a" stroke-width="1.1"/>
<ellipse cx="599.5" cy="217.5" rx="13.5" ry="6.0" transform="rotate(0.0 599.5 217.5)" fill="white" stroke="#3a3a3a" stroke-width="1.1"/>
<ellipse cx="599.5" cy="217.0" rx="10.0" ry="4.0" transform="rotate(0.0 599.5 217.0)" fill="white" stroke="#3a3a3a" stroke-width="0.9"/>
<line x1="586.0" y1="222.0" x2="613.0" y2="222.0" stroke="#3a3a3a" stroke-width="0.6"/>
<path d="M586 225 C582 226 582 232 586 233" fill="white" stroke="#3a3a3a" stroke-width="1"/>
<g transform="translate(602.5 242.0) rotate(90.0)"><path d="M0 -2.2 L6.5 -2.2 A1.0 2.2 0 0 1 6.5 2.2 L0 2.2 A1.0 2.2 0 0 1 0 -2.2 Z" fill="white" stroke="#3a3a3a" stroke-width="1"/><ellipse cx="0" cy="0" rx="1.0" ry="2.2" fill="white" stroke="#3a3a3a" stroke-width="1"/></g>
<ellipse cx="604.0" cy="253.0" rx="4.0" ry="2.8" transform="rotate(-25.0 604.0 253.0)" fill="none" stroke="#3a3a3a" stroke-width="1.6"/>
<line x1="600.0" y1="250.5" x2="602.0" y2="255.0" stroke="#3a3a3a" stroke-width="0.8"/>
<line x1="601.8" y1="251.0" x2="603.8" y2="255.5" stroke="#3a3a3a" stroke-width="0.8"/>
<line x1="603.6" y1="251.5" x2="605.6" y2="256.0" stroke="#3a3a3a" stroke-width="0.8"/>
<line x1="605.4" y1="252.0" x2="607.4" y2="256.5" stroke="#3a3a3a" stroke-width="0.8"/>
<path d="M549.0 210.0 L547.0 211.0 L547.0 226.0 L549.0 227.0" fill="none" stroke="#3a3a3a" stroke-width="1" />
<path d="M193.7 224.5 C196 221 199 220.5 201.2 220.7 C204 221 206 222 210.7 225.2 C213 225 214 224.8 216 224.8 C220 223 224 220.5 228 220.7 C231 221 234 222 235.5 225 L241.8 235.3 C244 234 246 234 247.2 234 C250 234.5 253 236 254.5 240 C256 245 255.5 250 251.3 255.7 C254 259 256 264 256 269.2 C255.5 273 254 275 252.7 276 L243.8 282.8 L233.7 286.8 L222.8 290.2 C219 290 217.5 288 217 286.8 C216.5 284 216.7 282 216.7 281.4 L213.4 277.3 L206.6 276 L202.5 276 L197.1 277.3 L189 278.7 C186 278 184.9 276 184.9 273.3 L184.9 269.2 C181 265 180 262 180.2 259.7 L178.8 253 C179.5 249 181 246 183.6 244.8 C185 242 186 239 187.6 237.4 C189 235 191 234 194.4 233.3 C194 231 193.5 227 193.7 224.5Z" fill="white" stroke="#3a3a3a" stroke-width="1.2"/>
<path d="M186.2 239.2 C189 236 192 234.5 195.3 234.1 C198 232 201 231 203.5 231.1 C206 231 209 232 210.6 233.1 C212.5 234.5 214 236 215.7 238.2 L223.8 250.4" fill="none" stroke="#3a3a3a" stroke-width="1.1"/>
<path d="M186.2 239.2 C185 241 184.7 243 184.7 245.3 C184.5 248 184.7 251 185.2 253.5 C186 256 187 258.5 188.2 260.6 C190 263 192 265 194.3 266.7 L198.4 268.7" fill="none" stroke="#3a3a3a" stroke-width="1.1"/>
<path d="M195.5 236 C200 239 203 244 204.5 251 C205.5 256 205 259 204.5 261" fill="none" stroke="#999" stroke-width="0.7"/>
<path d="M184.1 244.3 C181 247 179.5 250 179 252.4 C179.5 256 180 259 181.1 261.6 C183 263.5 185 265 187.2 265.7" fill="none" stroke="#3a3a3a" stroke-width="1"/>
<path d="M209.6 233.1 L213.6 225" fill="none" stroke="#3a3a3a" stroke-width="1"/>
<path d="M223.8 250.4 L233.7 263.8 L240.5 264.5 L241.8 277.3 L243.8 282.8" fill="none" stroke="#3a3a3a" stroke-width="1"/>
<path d="M240.5 264.5 C243 259 247 256 251.3 255.7" fill="none" stroke="#3a3a3a" stroke-width="0.9"/>
<line x1="208.5" y1="259.6" x2="223.8" y2="267.7" stroke="#3a3a3a" stroke-width="0.9"/>
<ellipse cx="197.1" cy="227.2" rx="2.3" ry="2.8" transform="rotate(-20.0 197.1 227.2)" fill="white" stroke="#3a3a3a" stroke-width="0.9"/>
<ellipse cx="244.5" cy="244.1" rx="2.0" ry="2.8" transform="rotate(-20.0 244.5 244.1)" fill="white" stroke="#3a3a3a" stroke-width="0.9"/>
<g transform="translate(187.0 274.0) rotate(-11.8)"><path d="M0 -4.2 L14.7 -4.2 A1.9 4.2 0 0 1 14.7 4.2 L0 4.2 A1.9 4.2 0 0 1 0 -4.2 Z" fill="white" stroke="#3a3a3a" stroke-width="1"/><ellipse cx="0" cy="0" rx="1.9" ry="4.2" fill="white" stroke="#3a3a3a" stroke-width="1"/></g>
<g transform="translate(203.0 272.0) rotate(2.7)"><path d="M0 -4.0 L16.7 -4.0 A1.8 4.0 0 0 1 16.7 4.0 L0 4.0 A1.8 4.0 0 0 1 0 -4.0 Z" fill="white" stroke="#3a3a3a" stroke-width="1"/></g>
<ellipse cx="219.7" cy="272.8" rx="2.0" ry="4.0" transform="rotate(-10.0 219.7 272.8)" fill="white" stroke="#3a3a3a" stroke-width="1"/>
<ellipse cx="187.0" cy="274.0" rx="2.0" ry="4.2" transform="rotate(-12.0 187.0 274.0)" fill="white" stroke="#3a3a3a" stroke-width="1"/>
<path d="M217 281.4 C215 285 217 289 222.8 290.2" fill="none" stroke="#3a3a3a" stroke-width="1"/>
<line x1="228.4" y1="238.7" x2="231.2" y2="237.1" stroke="#999" stroke-width="0.6"/>
<line x1="229.8" y1="241.2" x2="232.6" y2="239.6" stroke="#999" stroke-width="0.6"/>
<line x1="231.2" y1="243.7" x2="234.0" y2="242.1" stroke="#999" stroke-width="0.6"/>
<line x1="232.6" y1="246.2" x2="235.4" y2="244.6" stroke="#999" stroke-width="0.6"/>
<line x1="234.0" y1="248.7" x2="236.8" y2="247.1" stroke="#999" stroke-width="0.6"/>
<line x1="235.4" y1="251.2" x2="238.2" y2="249.6" stroke="#999" stroke-width="0.6"/>
<line x1="236.8" y1="253.7" x2="239.6" y2="252.1" stroke="#999" stroke-width="0.6"/>
<line x1="238.2" y1="256.2" x2="241.0" y2="254.6" stroke="#999" stroke-width="0.6"/>
<line x1="239.6" y1="258.7" x2="242.4" y2="257.1" stroke="#999" stroke-width="0.6"/>
<line x1="228.0" y1="238.0" x2="240.0" y2="261.0" stroke="#aaa" stroke-width="0.7"/>
<line x1="231.0" y1="237.0" x2="243.0" y2="259.0" stroke="#bbb" stroke-width="0.6"/>
<path d="M170.0 281.4 L245.2 244.1" fill="none" stroke="#555" stroke-width="0.85" stroke-dasharray="9 2.5 1 2.5"/>
<path d="M458.3 322 L458.3 328.5 C456 330 455.3 333 455.8 336 C456.5 339 458 340.5 459.3 340.8 L459.5 347 C460 351 463 352.5 466 351.5 C468 350.5 468.5 348 468.5 345 L481.2 350 L481.5 356 C482 359.5 485 361 488 360 C490 359 490.8 356 490.3 352.5 L488.3 335 L488.3 328 L478 328 L478 330.3 L468.5 326.3 L468.5 322Z" fill="white" stroke="#3a3a3a" stroke-width="1.1"/>
<ellipse cx="463.4" cy="322.0" rx="5.1" ry="2.4" transform="rotate(0.0 463.4 322.0)" fill="white" stroke="#3a3a3a" stroke-width="1"/>
<ellipse cx="463.4" cy="322.0" rx="3.3" ry="1.5" transform="rotate(0.0 463.4 322.0)" fill="none" stroke="#3a3a3a" stroke-width="0.7"/>
<path d="M475.6 318.1 L479.6 317.1 L485 327 L481 328Z" fill="white" stroke="#3a3a3a" stroke-width="1"/>
<ellipse cx="477.6" cy="317.6" rx="2.0" ry="1.2" transform="rotate(-15.0 477.6 317.6)" fill="white" stroke="#3a3a3a" stroke-width="0.9"/>
<ellipse cx="483.2" cy="328.0" rx="5.2" ry="2.2" transform="rotate(0.0 483.2 328.0)" fill="white" stroke="#3a3a3a" stroke-width="1"/>
<line x1="478.0" y1="330.3" x2="478.0" y2="339.5" stroke="#3a3a3a" stroke-width="0.9"/>
<line x1="459.3" y1="340.8" x2="481.2" y2="350.0" stroke="#3a3a3a" stroke-width="1"/>
<ellipse cx="463.4" cy="348.5" rx="1.6" ry="1.6" transform="rotate(0.0 463.4 348.5)" fill="white" stroke="#3a3a3a" stroke-width="0.8"/>
<ellipse cx="485.8" cy="357.0" rx="1.6" ry="1.6" transform="rotate(0.0 485.8 357.0)" fill="white" stroke="#3a3a3a" stroke-width="0.8"/>
<ellipse cx="497.0" cy="346.0" rx="13.5" ry="12.0" transform="rotate(0.0 497.0 346.0)" fill="white" stroke="#3a3a3a" stroke-width="1.1"/>
<ellipse cx="486.5" cy="343.5" rx="3.5" ry="10.5" transform="rotate(-15.0 486.5 343.5)" fill="white" stroke="#3a3a3a" stroke-width="1"/>
<ellipse cx="485.3" cy="345.0" rx="1.5" ry="1.5" transform="rotate(0.0 485.3 345.0)" fill="white" stroke="#3a3a3a" stroke-width="0.8"/>
<path d="M497 336 C494 342 494 351 497 357" fill="none" stroke="#555" stroke-width="0.6"/><path d="M499.5 336.5 C496.5 342 496.5 351 499.5 357" fill="none" stroke="#555" stroke-width="0.6"/><path d="M502 338 C499 343 499 352 502 356" fill="none" stroke="#555" stroke-width="0.6"/>
<ellipse cx="505.5" cy="348.5" rx="5.0" ry="7.5" transform="rotate(-15.0 505.5 348.5)" fill="white" stroke="#3a3a3a" stroke-width="1"/>
<ellipse cx="505.8" cy="349.0" rx="1.8" ry="1.8" transform="rotate(0.0 505.8 349.0)" fill="white" stroke="#3a3a3a" stroke-width="0.9"/>
<line x1="507.0" y1="349.5" x2="512.0" y2="352.0" stroke="#3a3a3a" stroke-width="0.8"/>
<g transform="translate(506 319) rotate(-25)"><rect x="-5" y="-3" width="10" height="6" rx="2.5" fill="#333" stroke="#3a3a3a" stroke-width="1"/><line x1="-3" y1="-3" x2="-3" y2="3" stroke="white" stroke-width="0.6"/><line x1="0" y1="-3" x2="0" y2="3" stroke="white" stroke-width="0.6"/><line x1="3" y1="-3" x2="3" y2="3" stroke="white" stroke-width="0.6"/></g>
<ellipse cx="501.8" cy="309.5" rx="2.8" ry="1.8" transform="rotate(0.0 501.8 309.5)" fill="white" stroke="#3a3a3a" stroke-width="1"/>
<ellipse cx="482.5" cy="493.5" rx="6.0" ry="5.2" transform="rotate(-20.0 482.5 493.5)" fill="white" stroke="#3a3a3a" stroke-width="1.1"/>
<path d="M404.3 400.6 C406 398.5 407.5 398 409.1 398 C412 397.8 415 398 416.7 398.6 L455.3 414.2 C460 416.5 464 419 467.5 421.4 C470 423 472 424.5 473.6 426.4 C476 429 478 432 479.7 435.6 L485.8 445.8 L490.8 451.9 C492.5 455 493.5 460 493.5 466.7 C495 468 497 469 497.3 470.6 C498 474 497.5 478 496.4 482.1 C494 485 492 487 489.6 488.8 C487 490.5 485 492 483.9 491.7 L478.1 489.8 C475 488 473 486 472.4 484 L470.5 472.5 L467.5 457 L463.4 442.7 C462 439 461 437.5 459.3 435.6 C456 432 453 430 450.2 428.5 L416.7 410.1 C414 411 412 412.5 409.1 413Z" fill="white" stroke="#3a3a3a" stroke-width="1.2"/>
<path d="M418.0 402.0 C424.3 404.7 447.3 413.8 456.0 418.0 C464.7 422.2 466.3 423.7 470.0 427.0 C473.7 430.3 475.7 434.2 478.0 438.0 C480.3 441.8 482.2 446.0 484.0 450.0 C485.8 454.0 488.2 460.0 489.0 462.0" fill="none" stroke="#999" stroke-width="0.7" />
<path d="M416.0 405.0 C422.5 407.7 446.3 416.8 455.0 421.0 C463.7 425.2 464.5 426.7 468.0 430.0 C471.5 433.3 473.7 437.2 476.0 441.0 C478.3 444.8 481.0 451.0 482.0 453.0" fill="none" stroke="#aaa" stroke-width="0.6" />
<ellipse cx="476.2" cy="481.1" rx="5.0" ry="6.0" transform="rotate(-10.0 476.2 481.1)" fill="white" stroke="#3a3a3a" stroke-width="1"/>
<ellipse cx="483.0" cy="495.0" rx="2.2" ry="2.0" transform="rotate(0.0 483.0 495.0)" fill="white" stroke="#3a3a3a" stroke-width="0.9"/>
<path d="M470.0 465.0 L485.0 458.0 L493.0 466.0" fill="none" stroke="#999" stroke-width="0.6" />
<g transform="translate(384.1 415.0) rotate(-20.0)"><path d="M0 -6.7 L22.5 -6.7 A3.0 6.7 0 0 1 22.5 6.7 L0 6.7 A3.0 6.7 0 0 1 0 -6.7 Z" fill="white" stroke="#3a3a3a" stroke-width="1.1"/></g>
<ellipse cx="384.5" cy="415.0" rx="3.0" ry="7.0" transform="rotate(-20.0 384.5 415.0)" fill="white" stroke="#3a3a3a" stroke-width="1.1"/>
<ellipse cx="409.8" cy="405.9" rx="3.8" ry="7.5" transform="rotate(-20.0 409.8 405.9)" fill="white" stroke="#3a3a3a" stroke-width="1.1"/>
<g transform="translate(355.5 426.3) rotate(-18.9)"><path d="M0 -7.8 L21.7 -7.8 A3.5 7.8 0 0 1 21.7 7.8 L0 7.8 A3.5 7.8 0 0 1 0 -7.8 Z" fill="white" stroke="#3a3a3a" stroke-width="1.1"/></g>
<ellipse cx="355.5" cy="426.3" rx="3.6" ry="7.8" transform="rotate(-19.0 355.5 426.3)" fill="white" stroke="#3a3a3a" stroke-width="1.1"/>
<ellipse cx="356.0" cy="426.1" rx="2.3" ry="6.4" transform="rotate(-19.0 356.0 426.1)" fill="none" stroke="#3a3a3a" stroke-width="0.7"/>
<line x1="360.0" y1="418.0" x2="362.0" y2="420.5" stroke="#777" stroke-width="0.6"/>
<line x1="360.0" y1="423.0" x2="362.0" y2="425.5" stroke="#777" stroke-width="0.6"/>
<line x1="360.0" y1="428.0" x2="362.0" y2="430.5" stroke="#777" stroke-width="0.6"/>
<line x1="364.5" y1="416.5" x2="366.5" y2="419.0" stroke="#777" stroke-width="0.6"/>
<line x1="364.5" y1="421.5" x2="366.5" y2="424.0" stroke="#777" stroke-width="0.6"/>
<line x1="364.5" y1="426.5" x2="366.5" y2="429.0" stroke="#777" stroke-width="0.6"/>
<line x1="369.0" y1="415.0" x2="371.0" y2="417.5" stroke="#777" stroke-width="0.6"/>
<line x1="369.0" y1="420.0" x2="371.0" y2="422.5" stroke="#777" stroke-width="0.6"/>
<line x1="369.0" y1="425.0" x2="371.0" y2="427.5" stroke="#777" stroke-width="0.6"/>
<line x1="373.5" y1="413.5" x2="375.5" y2="416.0" stroke="#777" stroke-width="0.6"/>
<line x1="373.5" y1="418.5" x2="375.5" y2="421.0" stroke="#777" stroke-width="0.6"/>
<line x1="373.5" y1="423.5" x2="375.5" y2="426.0" stroke="#777" stroke-width="0.6"/>
<path d="M351.5 458.5 L349.3 459.8 L353.0 467.0 L357.5 475.0 L358.5 476.5" fill="none" stroke="#3a3a3a" stroke-width="1.1" />
<line x1="356.5" y1="476.5" x2="359.5" y2="475.5" stroke="#3a3a3a" stroke-width="0.9"/>
<ellipse cx="443.6" cy="476.0" rx="4.0" ry="3.6" transform="rotate(-20.0 443.6 476.0)" fill="white" stroke="#3a3a3a" stroke-width="1.1"/>
<ellipse cx="443.6" cy="476.0" rx="1.8" ry="1.5" transform="rotate(0.0 443.6 476.0)" fill="white" stroke="#3a3a3a" stroke-width="0.8"/>
<g transform="translate(443.5 495.5) rotate(-22.2)"><path d="M0 -6.0 L14.6 -6.0 A2.7 6.0 0 0 1 14.6 6.0 L0 6.0 A2.7 6.0 0 0 1 0 -6.0 Z" fill="white" stroke="#3a3a3a" stroke-width="1.1"/><ellipse cx="0" cy="0" rx="2.7" ry="6.0" fill="white" stroke="#3a3a3a" stroke-width="1.1"/></g>
<ellipse cx="443.5" cy="495.5" rx="2.6" ry="6.0" transform="rotate(-22.0 443.5 495.5)" fill="white" stroke="#3a3a3a" stroke-width="1.1"/>
<ellipse cx="434.2" cy="499.5" rx="4.0" ry="5.0" transform="rotate(-15.0 434.2 499.5)" fill="none" stroke="#3a3a3a" stroke-width="1.7"/>
<path d="M455.3 391.4 L479.4 411.8" stroke="#3a3a3a" stroke-width="3.2"/><path d="M455.3 391.4 L479.4 411.8" stroke="white" stroke-width="1.4"/>
<ellipse cx="487.8" cy="419.4" rx="4.0" ry="4.0" transform="rotate(0.0 487.8 419.4)" fill="white" stroke="#3a3a3a" stroke-width="1.1"/>
<ellipse cx="487.8" cy="419.4" rx="1.5" ry="1.5" transform="rotate(0.0 487.8 419.4)" fill="white" stroke="#3a3a3a" stroke-width="0.8"/>
<path d="M500 430.5 L511 440" stroke="#3a3a3a" stroke-width="8.4"/><path d="M500 430.5 L511 440" stroke="white" stroke-width="6.2"/>
<ellipse cx="512.4" cy="442.0" rx="5.3" ry="5.5" transform="rotate(-20.0 512.4 442.0)" fill="white" stroke="#3a3a3a" stroke-width="1.1"/>
<ellipse cx="512.2" cy="442.2" rx="2.3" ry="2.4" transform="rotate(0.0 512.2 442.2)" fill="white" stroke="#3a3a3a" stroke-width="0.9"/>
<ellipse cx="512.8" cy="441.6" rx="3.8" ry="4.0" transform="rotate(-20.0 512.8 441.6)" fill="none" stroke="#888" stroke-width="0.6"/>
<ellipse cx="505.6" cy="470.3" rx="4.0" ry="5.3" transform="rotate(-15.0 505.6 470.3)" fill="none" stroke="#3a3a3a" stroke-width="1.5"/>
<ellipse cx="517.5" cy="465.2" rx="6.0" ry="7.5" transform="rotate(-15.0 517.5 465.2)" fill="white" stroke="#3a3a3a" stroke-width="1"/>
<ellipse cx="517.5" cy="465.2" rx="3.0" ry="3.8" transform="rotate(-15.0 517.5 465.2)" fill="white" stroke="#3a3a3a" stroke-width="0.9"/>
<g transform="translate(576.6 344.3) rotate(32)"><path d="M0 -4 L10 -4 L11 -4.6 L23 -4.6 L28 -3.2 L28 3.2 L23 4.6 L11 4.6 L10 4 L0 4Z" fill="white" stroke="#3a3a3a" stroke-width="1.1"/><line x1="1.8" y1="-4" x2="1.8" y2="4" stroke="#3a3a3a" stroke-width="0.8"/><line x1="11" y1="-4.6" x2="11" y2="4.6" stroke="#3a3a3a" stroke-width="0.9"/><line x1="13" y1="-4.6" x2="13" y2="4.6" stroke="#3a3a3a" stroke-width="0.8"/><line x1="18" y1="-4.6" x2="18" y2="4.6" stroke="#999" stroke-width="0.6"/><ellipse cx="27.5" cy="0" rx="1.6" ry="2.6" fill="#777" stroke="#3a3a3a" stroke-width="0.8"/></g>
<ellipse cx="611.2" cy="368.3" rx="5.0" ry="5.8" transform="rotate(-25.0 611.2 368.3)" fill="white" stroke="#3a3a3a" stroke-width="1"/>
<ellipse cx="611.2" cy="368.3" rx="2.1" ry="2.4" transform="rotate(-25.0 611.2 368.3)" fill="white" stroke="#3a3a3a" stroke-width="0.9"/>
<path d="M618.1 352.9 C619 350.5 621 349.8 623.6 350.2 L629 352.2 L641.2 360.3 C644 359 647 359.5 649.3 360.3 L656.1 362.4 C659 364 660.5 366 660.1 366.4 L659.5 369.8 L668.3 378 C669 376 671 375 673.7 373.9 C676 371 678 370 680.5 369.8 C684 369.5 686 370 688.6 371.2 C691 372.5 693 374 694 376.6 C695 379 695.5 381 695.4 382 C696.5 386 697 390 696.7 396.9 C695 400 693.5 402 691.3 403.7 L685.9 409.1 C683 407 681 405 679.1 403.7 L671 405 C668 406 667 408 666.9 409.1 C666 412 667 414 668.3 413.2 C671 415.5 673 416 675 415.9 C679 415 681 411 679.1 403.7" fill="white" stroke="#3a3a3a" stroke-width="1.2"/>
<path d="M618.1 352.9 C617 356 618 360 621 363 L627 370 L623 376 C622 379 624 381 627 381 L630.3 380.7 L669.6 401" fill="none" stroke="#3a3a3a" stroke-width="1.1"/>
<line x1="650.7" y1="371.2" x2="671.0" y2="380.7" stroke="#3a3a3a" stroke-width="1"/>
<ellipse cx="621.5" cy="358.3" rx="2.5" ry="2.5" transform="rotate(0.0 621.5 358.3)" fill="white" stroke="#3a3a3a" stroke-width="0.9"/>
<g transform="translate(624.0 375.2) rotate(-27.5)"><path d="M0 -4.0 L8.7 -4.0 A1.8 4.0 0 0 1 8.7 4.0 L0 4.0 A1.8 4.0 0 0 1 0 -4.0 Z" fill="white" stroke="#3a3a3a" stroke-width="1"/></g>
<ellipse cx="624.0" cy="375.2" rx="3.0" ry="4.0" transform="rotate(-25.0 624.0 375.2)" fill="white" stroke="#3a3a3a" stroke-width="1"/>
<ellipse cx="624.0" cy="375.2" rx="1.2" ry="1.5" transform="rotate(0.0 624.0 375.2)" fill="white" stroke="#3a3a3a" stroke-width="0.8"/>
<g transform="translate(643.0 369.8) rotate(-24.8)"><path d="M0 -5.5 L12.9 -5.5 A2.5 5.5 0 0 1 12.9 5.5 L0 5.5 A2.5 5.5 0 0 1 0 -5.5 Z" fill="white" stroke="#3a3a3a" stroke-width="1"/></g>
<ellipse cx="643.0" cy="369.8" rx="5.0" ry="7.0" transform="rotate(-20.0 643.0 369.8)" fill="white" stroke="#3a3a3a" stroke-width="1.1"/>
<ellipse cx="643.0" cy="369.8" rx="3.5" ry="5.0" transform="rotate(-20.0 643.0 369.8)" fill="none" stroke="#3a3a3a" stroke-width="0.7"/>
<line x1="640.0" y1="366.0" x2="646.0" y2="373.0" stroke="#555" stroke-width="0.6"/>
<line x1="646.0" y1="366.0" x2="640.0" y2="373.0" stroke="#555" stroke-width="0.6"/>
<g transform="translate(678.0 380.7) rotate(-17.5)"><path d="M0 -7.5 L13.6 -7.5 A3.4 7.5 0 0 1 13.6 7.5 L0 7.5 A3.4 7.5 0 0 1 0 -7.5 Z" fill="white" stroke="#3a3a3a" stroke-width="1.1"/></g>
<ellipse cx="678.0" cy="380.7" rx="7.0" ry="9.5" transform="rotate(-15.0 678.0 380.7)" fill="white" stroke="#3a3a3a" stroke-width="1.2"/>
<ellipse cx="678.0" cy="380.7" rx="5.0" ry="7.0" transform="rotate(-15.0 678.0 380.7)" fill="none" stroke="#3a3a3a" stroke-width="0.8"/>
<line x1="675.0" y1="377.0" x2="681.0" y2="384.0" stroke="#555" stroke-width="0.6"/>
<line x1="681.0" y1="377.0" x2="675.0" y2="384.0" stroke="#555" stroke-width="0.6"/>
<ellipse cx="683.2" cy="396.2" rx="2.0" ry="2.3" transform="rotate(0.0 683.2 396.2)" fill="white" stroke="#3a3a3a" stroke-width="0.9"/>
<ellipse cx="694.5" cy="391.0" rx="3.5" ry="5.0" transform="rotate(-15.0 694.5 391.0)" fill="white" stroke="#3a3a3a" stroke-width="1"/>
<ellipse cx="671.0" cy="411.8" rx="3.0" ry="3.0" transform="rotate(0.0 671.0 411.8)" fill="white" stroke="#3a3a3a" stroke-width="1"/>
<ellipse cx="671.0" cy="411.8" rx="1.2" ry="1.2" transform="rotate(0.0 671.0 411.8)" fill="white" stroke="#3a3a3a" stroke-width="0.8"/>
<path d="M705.4 431.5 C705.7 431.0 706.1 429.0 707.0 428.5 C707.9 428.0 705.2 425.1 710.5 428.5 C715.8 431.9 734.2 445.4 739.0 448.8" fill="none" stroke="#3a3a3a" stroke-width="2.2" />
<path d="M705.4 431.5 C705.7 431.0 706.1 429.0 707.0 428.5 C707.9 428.0 705.2 425.1 710.5 428.5 C715.8 431.9 734.2 445.4 739.0 448.8" fill="none" stroke="white" stroke-width="0.8" />
<ellipse cx="749.0" cy="455.5" rx="8.5" ry="9.8" transform="rotate(-15.0 749.0 455.5)" fill="white" stroke="#3a3a3a" stroke-width="1.1"/>
<ellipse cx="747.5" cy="455.0" rx="8.5" ry="9.8" transform="rotate(-15.0 747.5 455.0)" fill="white" stroke="#3a3a3a" stroke-width="1.1"/>
<ellipse cx="746.0" cy="454.5" rx="8.5" ry="9.8" transform="rotate(-15.0 746.0 454.5)" fill="white" stroke="#3a3a3a" stroke-width="1.1"/>
<ellipse cx="746.5" cy="454.5" rx="6.0" ry="7.5" transform="rotate(-15.0 746.5 454.5)" fill="none" stroke="#3a3a3a" stroke-width="0.8"/>
<line x1="741.0" y1="459.0" x2="743.0" y2="463.5" stroke="#555" stroke-width="0.6"/>
<line x1="742.8" y1="459.0" x2="744.8" y2="463.5" stroke="#555" stroke-width="0.6"/>
<line x1="744.6" y1="459.0" x2="746.6" y2="463.5" stroke="#555" stroke-width="0.6"/>
<line x1="746.4" y1="459.0" x2="748.4" y2="463.5" stroke="#555" stroke-width="0.6"/>
<line x1="748.2" y1="459.0" x2="750.2" y2="463.5" stroke="#555" stroke-width="0.6"/>
<path d="M753.2 444.7 C753.9 443.7 755.8 440.0 757.3 438.6 C758.8 437.2 761.5 436.9 762.4 436.6" fill="none" stroke="#3a3a3a" stroke-width="2.2" />
<path d="M753.2 444.7 C753.9 443.7 755.8 440.0 757.3 438.6 C758.8 437.2 761.5 436.9 762.4 436.6" fill="none" stroke="white" stroke-width="0.8" />
<g transform="translate(717.0 120.5) rotate(-11.0)"><line x1="-11" y1="-1.6" x2="0" y2="-1.6" stroke="#555" stroke-width="0.7"/><line x1="-11" y1="1.6" x2="0" y2="1.6" stroke="#555" stroke-width="0.7"/><line x1="-11" y1="0" x2="0" y2="0" stroke="#777" stroke-width="0.5"/><rect x="15" y="-8" width="16" height="16" rx="2" fill="white" stroke="#3a3a3a" stroke-width="1"/><rect x="7" y="-4.5" width="8" height="9" fill="white" stroke="#3a3a3a" stroke-width="1"/><rect x="0" y="-6.3" width="7" height="12.6" rx="1.5" fill="white" stroke="#3a3a3a" stroke-width="1"/><line x1="24" y1="-8" x2="24" y2="8" stroke="#3a3a3a" stroke-width="0.9"/><rect x="27.5" y="-6" width="3" height="12" rx="1.2" fill="white" stroke="#3a3a3a" stroke-width="0.8"/><line x1="9" y1="0" x2="13" y2="0" stroke="#777" stroke-width="0.6"/></g>
<g transform="translate(721.5 150.0) rotate(-11.0)"><line x1="-11" y1="-1.6" x2="0" y2="-1.6" stroke="#555" stroke-width="0.7"/><line x1="-11" y1="1.6" x2="0" y2="1.6" stroke="#555" stroke-width="0.7"/><line x1="-11" y1="0" x2="0" y2="0" stroke="#777" stroke-width="0.5"/><rect x="15" y="-8" width="16" height="16" rx="2" fill="white" stroke="#3a3a3a" stroke-width="1"/><rect x="7" y="-4.5" width="8" height="9" fill="white" stroke="#3a3a3a" stroke-width="1"/><rect x="0" y="-6.3" width="7" height="12.6" rx="1.5" fill="white" stroke="#3a3a3a" stroke-width="1"/><line x1="24" y1="-8" x2="24" y2="8" stroke="#3a3a3a" stroke-width="0.9"/><rect x="27.5" y="-6" width="3" height="12" rx="1.2" fill="white" stroke="#3a3a3a" stroke-width="0.8"/><line x1="9" y1="0" x2="13" y2="0" stroke="#777" stroke-width="0.6"/></g>
<path d="M134 434.4 L140.8 434.4 L140.8 437.8 L134 437.8Z" fill="white" stroke="#3a3a3a" stroke-width="1"/>
<path d="M119.2 433.1 L134 433.1 L134 439 L119.2 439Z" fill="white" stroke="#3a3a3a" stroke-width="1.1"/>
<path d="M110.5 431.9 L117.5 431.9 C119 432.5 119.5 434 119.5 436.1 C119.5 438.2 119 439.7 117.5 440.3 L110.5 440.3 C108.5 439.7 107.8 438 107.8 436.1 C107.8 434.2 108.5 432.5 110.5 431.9Z" fill="white" stroke="#3a3a3a" stroke-width="1.1"/>
<line x1="119.2" y1="432.5" x2="119.2" y2="439.7" stroke="#3a3a3a" stroke-width="0.9"/>
<line x1="112.5" y1="433.0" x2="112.5" y2="439.0" stroke="#999" stroke-width="0.6"/>
<path d="M101 450 C104 449 108 449 110.5 449.5 C112.5 451 113 453 113 455 C113 457 112.5 459 110.5 460.5 C108 461 104 461 101 460 C98 459 97.5 457 97.5 455 C97.5 453 98 451 101 450Z" fill="white" stroke="#3a3a3a" stroke-width="1.1"/>
<line x1="108.5" y1="449.5" x2="108.5" y2="460.5" stroke="#777" stroke-width="0.7"/>
<line x1="110.5" y1="450.0" x2="110.5" y2="460.0" stroke="#777" stroke-width="0.7"/>
<path d="M116 451.5 L121.5 449.5 L127 449.3 L131.5 451.5 L131.5 458.5 L127 460.7 L121.5 460.5 L116 458.5 C114 457.5 114 452.5 116 451.5Z" fill="white" stroke="#3a3a3a" stroke-width="1.1"/>
<line x1="121.5" y1="449.5" x2="121.5" y2="460.5" stroke="#777" stroke-width="0.7"/>
<line x1="127.0" y1="449.3" x2="127.0" y2="460.7" stroke="#888" stroke-width="0.6"/>
<path d="M131.5 451.8 L139.2 451.8 L139.2 458.2 L131.5 458.2Z" fill="white" stroke="#3a3a3a" stroke-width="1"/>
<line x1="133.0" y1="451.8" x2="133.5" y2="458.2" stroke="#777" stroke-width="0.6"/>
<line x1="135.0" y1="451.8" x2="135.5" y2="458.2" stroke="#777" stroke-width="0.6"/>
<line x1="137.0" y1="451.8" x2="137.5" y2="458.2" stroke="#777" stroke-width="0.6"/>
<path d="M139.2 453.5 L143 453.5 L143 456.5 L139.2 456.5Z" fill="white" stroke="#3a3a3a" stroke-width="0.9"/>
<path d="M199.0 476.5 C199.8 476.4 202.8 475.9 204.0 476.2 C205.2 476.5 205.6 477.4 206.0 478.5 C206.4 479.6 206.0 481.4 206.5 482.5 C207.0 483.6 208.1 484.8 209.0 485.0 C209.9 485.2 211.6 484.5 212.0 483.5 C212.4 482.5 211.2 480.1 211.5 479.0 C211.8 477.9 213.0 477.1 214.0 477.0 C215.0 476.9 216.8 477.6 217.5 478.5 C218.2 479.4 218.2 481.2 218.0 482.5 C217.8 483.8 216.8 486.1 216.0 486.5 C215.2 486.9 213.8 485.9 213.5 485.0 C213.2 484.1 213.2 481.9 214.0 481.0 C214.8 480.1 216.8 479.5 218.0 479.5 C219.2 479.5 220.8 480.2 221.5 481.0 C222.2 481.8 222.3 483.3 222.0 484.5 C221.7 485.7 220.4 487.2 219.5 488.0 C218.6 488.8 216.8 488.8 216.5 489.5 C216.2 490.2 217.1 492.2 218.0 492.5 C218.9 492.8 220.7 491.7 222.0 491.0 C223.3 490.3 224.7 488.8 226.0 488.5 C227.3 488.2 229.0 488.8 230.0 489.5 C231.0 490.2 232.2 491.6 232.0 492.5 C231.8 493.4 230.7 494.4 229.0 494.8 C227.3 495.2 224.0 495.1 222.0 495.0 C220.0 494.9 218.0 494.7 217.0 494.0 C216.0 493.3 216.2 491.5 216.0 491.0" fill="none" stroke="#3a3a3a" stroke-width="2.3" />
<path d="M199.0 476.5 C199.8 476.4 202.8 475.9 204.0 476.2 C205.2 476.5 205.6 477.4 206.0 478.5 C206.4 479.6 206.0 481.4 206.5 482.5 C207.0 483.6 208.1 484.8 209.0 485.0 C209.9 485.2 211.6 484.5 212.0 483.5 C212.4 482.5 211.2 480.1 211.5 479.0 C211.8 477.9 213.0 477.1 214.0 477.0 C215.0 476.9 216.8 477.6 217.5 478.5 C218.2 479.4 218.2 481.2 218.0 482.5 C217.8 483.8 216.8 486.1 216.0 486.5 C215.2 486.9 213.8 485.9 213.5 485.0 C213.2 484.1 213.2 481.9 214.0 481.0 C214.8 480.1 216.8 479.5 218.0 479.5 C219.2 479.5 220.8 480.2 221.5 481.0 C222.2 481.8 222.3 483.3 222.0 484.5 C221.7 485.7 220.4 487.2 219.5 488.0 C218.6 488.8 216.8 488.8 216.5 489.5 C216.2 490.2 217.1 492.2 218.0 492.5 C218.9 492.8 220.7 491.7 222.0 491.0 C223.3 490.3 224.7 488.8 226.0 488.5 C227.3 488.2 229.0 488.8 230.0 489.5 C231.0 490.2 232.2 491.6 232.0 492.5 C231.8 493.4 230.7 494.4 229.0 494.8 C227.3 495.2 224.0 495.1 222.0 495.0 C220.0 494.9 218.0 494.7 217.0 494.0 C216.0 493.3 216.2 491.5 216.0 491.0" fill="none" stroke="white" stroke-width="0.7" />
<ellipse cx="229.7" cy="436.4" rx="2.5" ry="3.0" transform="rotate(0.0 229.7 436.4)" fill="none" stroke="#3a3a3a" stroke-width="1.5"/>
<path d="M163.5 486.3 L166 486.3 L180.5 502.5 L166.2 522.8 L163 522.8 L160.8 518.8 L157.4 522.2 L152.7 521.5 L150.7 517.4 L156.7 512 L155.4 496.4Z" fill="white" stroke="#3a3a3a" stroke-width="1.1"/>
<line x1="166.0" y1="486.3" x2="155.5" y2="499.0" stroke="#3a3a3a" stroke-width="0.7"/>
<line x1="166.0" y1="489.0" x2="178.0" y2="502.5" stroke="#666" stroke-width="0.6"/>
<line x1="164.0" y1="492.0" x2="176.0" y2="505.0" stroke="#999" stroke-width="0.6"/>
<line x1="178.0" y1="502.5" x2="164.0" y2="520.0" stroke="#777" stroke-width="0.6"/>
<path d="M137.8 485.6 L141.2 485.6 L159.5 501.8 L143.9 524.9 L140.5 525.3 L137.8 522.2 L134.4 524.2 L129 523.5 L124.9 517.4 L126.9 510.7 L122.9 508.6Z" fill="white" stroke="#3a3a3a" stroke-width="1.1"/>
<line x1="141.2" y1="485.6" x2="157.0" y2="502.0" stroke="#3a3a3a" stroke-width="0.8"/>
<line x1="157.0" y1="502.0" x2="142.0" y2="524.9" stroke="#666" stroke-width="0.7"/>
<line x1="155.0" y1="502.0" x2="140.0" y2="523.0" stroke="#999" stroke-width="0.6"/>
<line x1="127.5" y1="511.5" x2="132.0" y2="516.0" stroke="#999" stroke-width="0.6"/>
</svg>
</body></html>
